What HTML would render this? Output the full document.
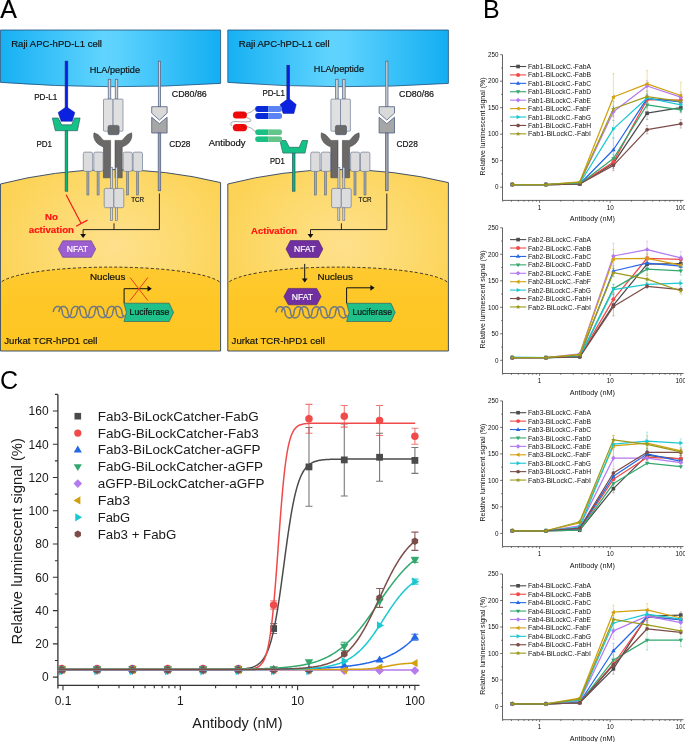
<!DOCTYPE html>
<html><head><meta charset="utf-8"><style>
html,body{margin:0;padding:0;background:#fff;}
svg{display:block;font-family:"Liberation Sans", sans-serif;will-change:transform;}
</style></head><body>
<svg width="685" height="742" viewBox="0 0 685 742">
<rect width="685" height="742" fill="#fff"/>
<defs><linearGradient id="gBlue" x1="0" x2="1" y1="0" y2="0"><stop offset="0" stop-color="#17b0f3"/><stop offset="0.47" stop-color="#60d4fe"/><stop offset="0.53" stop-color="#5dd2fe"/><stop offset="1" stop-color="#13aef2"/></linearGradient><radialGradient id="gYel1" cx="0.52" cy="0.42" r="0.55"><stop offset="0" stop-color="#fee08c"/><stop offset="0.5" stop-color="#fddb72"/><stop offset="1" stop-color="#fcd356"/></radialGradient><linearGradient id="gNuc1" x1="0" x2="0" y1="0" y2="1"><stop offset="0" stop-color="#feca30"/><stop offset="0.4" stop-color="#fec726"/><stop offset="1" stop-color="#fec622"/></linearGradient><radialGradient id="gYel2" cx="0.52" cy="0.42" r="0.55"><stop offset="0" stop-color="#fee08c"/><stop offset="0.5" stop-color="#fddb72"/><stop offset="1" stop-color="#fcd356"/></radialGradient><linearGradient id="gNuc2" x1="0" x2="0" y1="0" y2="1"><stop offset="0" stop-color="#feca30"/><stop offset="0.4" stop-color="#fec726"/><stop offset="1" stop-color="#fec622"/></linearGradient></defs><text x="0.3" y="18.0" font-size="25" fill="#000" stroke="#000" stroke-width="0.18" font-weight="normal" text-anchor="start">A</text><path d="M0.45,30 H220.60 V83.4 Q110.52,90.5 0.45,82.4 Z" fill="url(#gBlue)" stroke="#24507a" stroke-width="0.8"/><clipPath id="cc1"><path d="M0.45,184 Q110.52,155.8 220.60,182.6 V351 H0.45 Z"/></clipPath><path d="M0.45,184 Q110.52,155.8 220.60,182.6 V351 H0.45 Z" fill="url(#gYel1)"/><g clip-path="url(#cc1)"><path d="M-1.08,285.90 A111.6,18.8 0 0 1 222.12,285.90 V360 H-1.08 Z" fill="url(#gNuc1)"/><path d="M-1.08,285.90 A111.6,18.8 0 0 1 222.12,285.90" fill="none" stroke="#222" stroke-width="0.9" stroke-dasharray="3,2.2"/></g><path d="M0.45,184 Q110.52,155.8 220.60,182.6 V351 H0.45 Z" fill="none" stroke="#2d4262" stroke-width="0.9"/><path d="M227.80,30 H448.40 V83.4 Q338.10,90.5 227.80,82.4 Z" fill="url(#gBlue)" stroke="#24507a" stroke-width="0.8"/><clipPath id="cc2"><path d="M227.80,184 Q338.10,155.8 448.40,182.6 V351 H227.80 Z"/></clipPath><path d="M227.80,184 Q338.10,155.8 448.40,182.6 V351 H227.80 Z" fill="url(#gYel2)"/><g clip-path="url(#cc2)"><path d="M226.50,285.90 A111.6,18.8 0 0 1 449.70,285.90 V360 H226.50 Z" fill="url(#gNuc2)"/><path d="M226.50,285.90 A111.6,18.8 0 0 1 449.70,285.90" fill="none" stroke="#222" stroke-width="0.9" stroke-dasharray="3,2.2"/></g><path d="M227.80,184 Q338.10,155.8 448.40,182.6 V351 H227.80 Z" fill="none" stroke="#2d4262" stroke-width="0.9"/><rect x="108.25" y="79.30" width="2.50" height="19.80" fill="#d4d4d6" stroke="#5b6a88" stroke-width="0.8"/><rect x="115.25" y="79.30" width="2.50" height="19.80" fill="#d4d4d6" stroke="#5b6a88" stroke-width="0.8"/><rect x="103.50" y="99.10" width="9.60" height="32.10" rx="0.8" fill="#e0e0e0" stroke="#5b6a88" stroke-width="0.6"/><rect x="113.10" y="99.10" width="9.90" height="32.10" rx="0.8" fill="#e0e0e0" stroke="#5b6a88" stroke-width="0.6"/><rect x="108.00" y="125.40" width="11.10" height="9.30" rx="1.6" fill="#6b6a6a" stroke="#44506a" stroke-width="0.6"/><path d="M94.00,132.80 Q98.50,134.00 101.00,137.50 Q102.60,140.40 104.20,140.40 L110.60,140.40 L110.60,177.80 L103.40,177.80 L103.40,147.00 Q95.00,144.00 93.80,137.00 Q93.60,134.50 94.00,132.80 Z" fill="#6b6868" stroke="#3a3a3a" stroke-width="0.5"/><path d="M131.60,132.80 Q127.10,134.00 124.60,137.50 Q123.00,140.40 121.40,140.40 L115.00,140.40 L115.00,177.80 L122.20,177.80 L122.20,147.00 Q130.60,144.00 131.80,137.00 Q132.00,134.50 131.60,132.80 Z" fill="#6b6868" stroke="#3a3a3a" stroke-width="0.5"/><rect x="86.90" y="171.00" width="2.00" height="24.00" fill="#a3a8b2" stroke="#5b6a88" stroke-width="0.6"/><rect x="83.30" y="152.10" width="9.30" height="19.30" rx="1.6" fill="#dcdcdc" stroke="#5b6a88" stroke-width="0.6"/><rect x="97.10" y="171.00" width="2.00" height="24.00" fill="#a3a8b2" stroke="#5b6a88" stroke-width="0.6"/><rect x="93.80" y="152.10" width="9.30" height="19.30" rx="1.6" fill="#dcdcdc" stroke="#5b6a88" stroke-width="0.6"/><rect x="126.60" y="171.00" width="2.00" height="24.00" fill="#a3a8b2" stroke="#5b6a88" stroke-width="0.6"/><rect x="123.20" y="152.10" width="9.10" height="19.30" rx="1.6" fill="#dcdcdc" stroke="#5b6a88" stroke-width="0.6"/><rect x="136.60" y="171.00" width="2.00" height="24.00" fill="#a3a8b2" stroke="#5b6a88" stroke-width="0.6"/><rect x="133.10" y="152.10" width="9.40" height="19.30" rx="1.6" fill="#dcdcdc" stroke="#5b6a88" stroke-width="0.6"/><rect x="110.50" y="167.30" width="2.00" height="21.30" fill="#d4d4d4" stroke="#5b6a88" stroke-width="0.6"/><rect x="115.40" y="167.30" width="2.00" height="21.30" fill="#d4d4d4" stroke="#5b6a88" stroke-width="0.6"/><rect x="110.40" y="207.50" width="2.00" height="13.10" fill="#d4d4d4" stroke="#5b6a88" stroke-width="0.6"/><rect x="115.40" y="207.50" width="2.00" height="13.10" fill="#d4d4d4" stroke="#5b6a88" stroke-width="0.6"/><rect x="104.20" y="188.40" width="9.70" height="19.30" rx="1.6" fill="#dcdcdc" stroke="#5b6a88" stroke-width="0.6"/><rect x="113.90" y="188.40" width="9.90" height="19.30" rx="1.6" fill="#dcdcdc" stroke="#5b6a88" stroke-width="0.6"/><rect x="158.35" y="61.20" width="2.20" height="45.80" fill="#d0d0d6" stroke="#5a6a8c" stroke-width="0.8"/><polygon points="151.70,106.70 167.10,106.70 167.10,113.10 159.40,120.10 151.70,113.10" fill="#d9d9d9" stroke="#4e5e80" stroke-width="0.8"/><polygon points="151.70,117.20 159.40,123.70 167.10,117.20 167.10,133.00 151.70,133.00" fill="#a6a6a6" stroke="#4e5e80" stroke-width="0.8"/><rect x="158.20" y="133.00" width="2.50" height="57.70" fill="#a0a2a8" stroke="#56668a" stroke-width="0.8"/><path d="M114.0,223.3 V229.6 M159.4,193.5 V229.6 H83.1 V235" fill="none" stroke="#111" stroke-width="0.9"/><polygon points="80.20,234.00 86.00,234.00 83.10,238.00" fill="#111" stroke="none" stroke-width="0.6"/><rect x="65.15" y="61.20" width="2.60" height="46.80" fill="#0a1ee2" stroke="#1a2a80" stroke-width="0.7"/><polygon points="66.40,106.70 74.80,112.50 72.20,121.30 61.10,121.30 58.20,112.50" fill="#0a22e0" stroke="#0a14a0" stroke-width="0.5"/><rect x="65.15" y="130.00" width="2.60" height="61.20" fill="#05b878" stroke="#2a5a6a" stroke-width="0.7"/><polygon points="52.30,118.00 58.20,118.00 61.70,124.80 71.60,124.80 74.50,118.00 80.10,118.00 77.40,130.70 55.30,130.70" fill="#14c286" stroke="#2a5a62" stroke-width="0.65"/><path d="M66.1,194.7 L80.9,223.0 M76.1,226.2 L87.5,220.1" stroke="#f01c1c" stroke-width="1.2" fill="none"/><polygon points="58.30,249.05 62.70,240.80 91.30,240.80 95.70,249.05 91.30,257.30 62.70,257.30" fill="#9b5fd0" stroke="#5b3c8c" stroke-width="0.6"/><polyline points="53.30,312.00 53.55,310.35 53.80,309.67 54.05,309.15 54.30,308.72 54.55,308.36 54.80,308.04 55.05,307.76 55.30,307.51 55.55,307.29 55.80,307.10 56.05,306.93 56.30,306.79 56.55,306.67 56.80,306.57 57.05,306.50 57.30,306.44 57.55,306.41 57.80,306.40 58.05,306.41 58.30,306.44 58.55,306.50 58.80,306.57 59.05,306.67 59.30,306.79 59.55,306.93 59.80,307.10 60.05,307.29 60.30,307.51 60.55,307.76 60.80,308.04 61.05,308.36 61.30,308.72 61.55,309.15 61.80,309.67 62.05,310.35 62.30,312.00 62.55,313.65 62.80,314.33 63.05,314.85 63.30,315.28 63.55,315.64 63.80,315.96 64.05,316.24 64.30,316.49 64.55,316.71 64.80,316.90 65.05,317.07 65.30,317.21 65.55,317.33 65.80,317.43 66.05,317.50 66.30,317.56 66.55,317.59 66.80,317.60 67.05,317.59 67.30,317.56 67.55,317.50 67.80,317.43 68.05,317.33 68.30,317.21 68.55,317.07 68.80,316.90 69.05,316.71 69.30,316.49 69.55,316.24 69.80,315.96 70.05,315.64 70.30,315.28 70.55,314.85 70.80,314.33 71.05,313.65 71.30,312.00 71.55,310.35 71.80,309.67 72.05,309.15 72.30,308.72 72.55,308.36 72.80,308.04 73.05,307.76 73.30,307.51 73.55,307.29 73.80,307.10 74.05,306.93 74.30,306.79 74.55,306.67 74.80,306.57 75.05,306.50 75.30,306.44 75.55,306.41 75.80,306.40 76.05,306.41 76.30,306.44 76.55,306.50 76.80,306.57 77.05,306.67 77.30,306.79 77.55,306.93 77.80,307.10 78.05,307.29 78.30,307.51 78.55,307.76 78.80,308.04 79.05,308.36 79.30,308.72 79.55,309.15 79.80,309.67 80.05,310.35 80.30,312.00 80.55,313.65 80.80,314.33 81.05,314.85 81.30,315.28 81.55,315.64 81.80,315.96 82.05,316.24 82.30,316.49 82.55,316.71 82.80,316.90 83.05,317.07 83.30,317.21 83.55,317.33 83.80,317.43 84.05,317.50 84.30,317.56 84.55,317.59 84.80,317.60 85.05,317.59 85.30,317.56 85.55,317.50 85.80,317.43 86.05,317.33 86.30,317.21 86.55,317.07 86.80,316.90 87.05,316.71 87.30,316.49 87.55,316.24 87.80,315.96 88.05,315.64 88.30,315.28 88.55,314.85 88.80,314.33 89.05,313.65 89.30,312.00 89.55,310.35 89.80,309.67 90.05,309.15 90.30,308.72 90.55,308.36 90.80,308.04 91.05,307.76 91.30,307.51 91.55,307.29 91.80,307.10 92.05,306.93 92.30,306.79 92.55,306.67 92.80,306.57 93.05,306.50 93.30,306.44 93.55,306.41 93.80,306.40 94.05,306.41 94.30,306.44 94.55,306.50 94.80,306.57 95.05,306.67 95.30,306.79 95.55,306.93 95.80,307.10 96.05,307.29 96.30,307.51 96.55,307.76 96.80,308.04 97.05,308.36 97.30,308.72 97.55,309.15 97.80,309.67 98.05,310.35 98.30,312.00 98.55,313.65 98.80,314.33 99.05,314.85 99.30,315.28 99.55,315.64 99.80,315.96 100.05,316.24 100.30,316.49 100.55,316.71 100.80,316.90 101.05,317.07 101.30,317.21 101.55,317.33 101.80,317.43 102.05,317.50 102.30,317.56 102.55,317.59 102.80,317.60 103.05,317.59 103.30,317.56 103.55,317.50 103.80,317.43 104.05,317.33 104.30,317.21 104.55,317.07 104.80,316.90 105.05,316.71 105.30,316.49 105.55,316.24 105.80,315.96 106.05,315.64 106.30,315.28 106.55,314.85 106.80,314.33 107.05,313.65 107.30,312.00 107.55,310.35 107.80,309.67 108.05,309.15 108.30,308.72 108.55,308.36 108.80,308.04 109.05,307.76 109.30,307.51 109.55,307.29 109.80,307.10 110.05,306.93 110.30,306.79 110.55,306.67 110.80,306.57 111.05,306.50 111.30,306.44 111.55,306.41 111.80,306.40 112.05,306.41 112.30,306.44 112.55,306.50 112.80,306.57 113.05,306.67 113.30,306.79 113.55,306.93 113.80,307.10 114.05,307.29 114.30,307.51 114.55,307.76 114.80,308.04 115.05,308.36 115.30,308.72 115.55,309.15 115.80,309.67 116.05,310.35 116.30,312.00 116.55,313.65 116.80,314.33 117.05,314.85 117.30,315.28 117.55,315.64 117.80,315.96 118.05,316.24 118.30,316.49 118.55,316.71 118.80,316.90 119.05,317.07 119.30,317.21 119.55,317.33 119.80,317.43 120.05,317.50 120.30,317.56 120.55,317.59 120.80,317.60 121.05,317.59 121.30,317.56 121.55,317.50 121.80,317.43 122.05,317.33 122.30,317.21 122.55,317.07 122.80,316.90 123.05,316.71 123.30,316.49 123.55,316.24 123.80,315.96 124.05,315.64 124.30,315.28" fill="none" stroke="#6f7785" stroke-width="1.5"/><polyline points="58.88,312.00 59.13,310.35 59.38,309.67 59.63,309.15 59.88,308.72 60.13,308.36 60.38,308.04 60.63,307.76 60.88,307.51 61.13,307.29 61.38,307.10 61.63,306.93 61.88,306.79 62.13,306.67 62.38,306.57 62.63,306.50 62.88,306.44 63.13,306.41 63.38,306.40 63.63,306.41 63.88,306.44 64.13,306.50 64.38,306.57 64.63,306.67 64.88,306.79 65.13,306.93 65.38,307.10 65.63,307.29 65.88,307.51 66.13,307.76 66.38,308.04 66.63,308.36 66.88,308.72 67.13,309.15 67.38,309.67 67.63,310.35 67.88,312.00 68.13,313.65 68.38,314.33 68.63,314.85 68.88,315.28 69.13,315.64 69.38,315.96 69.63,316.24 69.88,316.49 70.13,316.71 70.38,316.90 70.63,317.07 70.88,317.21 71.13,317.33 71.38,317.43 71.63,317.50 71.88,317.56 72.13,317.59 72.38,317.60 72.63,317.59 72.88,317.56 73.13,317.50 73.38,317.43 73.63,317.33 73.88,317.21 74.13,317.07 74.38,316.90 74.63,316.71 74.88,316.49 75.13,316.24 75.38,315.96 75.63,315.64 75.88,315.28 76.13,314.85 76.38,314.33 76.63,313.65 76.88,312.00 77.13,310.35 77.38,309.67 77.63,309.15 77.88,308.72 78.13,308.36 78.38,308.04 78.63,307.76 78.88,307.51 79.13,307.29 79.38,307.10 79.63,306.93 79.88,306.79 80.13,306.67 80.38,306.57 80.63,306.50 80.88,306.44 81.13,306.41 81.38,306.40 81.63,306.41 81.88,306.44 82.13,306.50 82.38,306.57 82.63,306.67 82.88,306.79 83.13,306.93 83.38,307.10 83.63,307.29 83.88,307.51 84.13,307.76 84.38,308.04 84.63,308.36 84.88,308.72 85.13,309.15 85.38,309.67 85.63,310.35 85.88,312.00 86.13,313.65 86.38,314.33 86.63,314.85 86.88,315.28 87.13,315.64 87.38,315.96 87.63,316.24 87.88,316.49 88.13,316.71 88.38,316.90 88.63,317.07 88.88,317.21 89.13,317.33 89.38,317.43 89.63,317.50 89.88,317.56 90.13,317.59 90.38,317.60 90.63,317.59 90.88,317.56 91.13,317.50 91.38,317.43 91.63,317.33 91.88,317.21 92.13,317.07 92.38,316.90 92.63,316.71 92.88,316.49 93.13,316.24 93.38,315.96 93.63,315.64 93.88,315.28 94.13,314.85 94.38,314.33 94.63,313.65 94.88,312.00 95.13,310.35 95.38,309.67 95.63,309.15 95.88,308.72 96.13,308.36 96.38,308.04 96.63,307.76 96.88,307.51 97.13,307.29 97.38,307.10 97.63,306.93 97.88,306.79 98.13,306.67 98.38,306.57 98.63,306.50 98.88,306.44 99.13,306.41 99.38,306.40 99.63,306.41 99.88,306.44 100.13,306.50 100.38,306.57 100.63,306.67 100.88,306.79 101.13,306.93 101.38,307.10 101.63,307.29 101.88,307.51 102.13,307.76 102.38,308.04 102.63,308.36 102.88,308.72 103.13,309.15 103.38,309.67 103.63,310.35 103.88,312.00 104.13,313.65 104.38,314.33 104.63,314.85 104.88,315.28 105.13,315.64 105.38,315.96 105.63,316.24 105.88,316.49 106.13,316.71 106.38,316.90 106.63,317.07 106.88,317.21 107.13,317.33 107.38,317.43 107.63,317.50 107.88,317.56 108.13,317.59 108.38,317.60 108.63,317.59 108.88,317.56 109.13,317.50 109.38,317.43 109.63,317.33 109.88,317.21 110.13,317.07 110.38,316.90 110.63,316.71 110.88,316.49 111.13,316.24 111.38,315.96 111.63,315.64 111.88,315.28 112.13,314.85 112.38,314.33 112.63,313.65 112.88,312.00 113.13,310.35 113.38,309.67 113.63,309.15 113.88,308.72 114.13,308.36 114.38,308.04 114.63,307.76 114.88,307.51 115.13,307.29 115.38,307.10 115.63,306.93 115.88,306.79 116.13,306.67 116.38,306.57 116.63,306.50 116.88,306.44 117.13,306.41 117.38,306.40 117.63,306.41 117.88,306.44 118.13,306.50 118.38,306.57 118.63,306.67 118.88,306.79 119.13,306.93 119.38,307.10 119.63,307.29 119.88,307.51 120.13,307.76 120.38,308.04 120.63,308.36 120.88,308.72 121.13,309.15 121.38,309.67 121.63,310.35 121.88,312.00 122.13,313.65 122.38,314.33 122.63,314.85 122.88,315.28 123.13,315.64 123.38,315.96 123.63,316.24 123.88,316.49 124.13,316.71 124.38,316.90" fill="none" stroke="#6f7785" stroke-width="1.5"/><path d="M124.1,303.2 V288.7 H148" fill="none" stroke="#111" stroke-width="1"/><polygon points="147.50,285.80 151.80,288.70 147.50,291.60" fill="#111" stroke="none" stroke-width="0.6"/><path d="M130,277.5 L147.9,300.6 M147.9,277.5 L130,300.6" stroke="#f03a1a" stroke-width="1" fill="none"/><polygon points="123.90,303.20 169.20,303.20 173.60,312.40 169.20,321.50 123.90,321.50 126.40,312.40" fill="#1fc08a" stroke="#28506a" stroke-width="0.6"/><text x="11.2" y="46.8" font-size="9.2" fill="#111" stroke="#111" stroke-width="0.18" font-weight="normal" text-anchor="start" textLength="90.8" lengthAdjust="spacingAndGlyphs">Raji APC-hPD-L1 cell</text><text x="89.7" y="72.8" font-size="9.2" fill="#111" stroke="#111" stroke-width="0.18" font-weight="normal" text-anchor="start" textLength="50.3" lengthAdjust="spacingAndGlyphs">HLA/peptide</text><text x="34.2" y="99.7" font-size="8.6" fill="#111" stroke="#111" stroke-width="0.18" font-weight="normal" text-anchor="start" textLength="23.0" lengthAdjust="spacingAndGlyphs">PD-L1</text><text x="171.8" y="97.1" font-size="8.6" fill="#111" stroke="#111" stroke-width="0.18" font-weight="normal" text-anchor="start" textLength="35.0" lengthAdjust="spacingAndGlyphs">CD80/86</text><text x="36.4" y="146.9" font-size="8.6" fill="#111" stroke="#111" stroke-width="0.18" font-weight="normal" text-anchor="start" textLength="15.6" lengthAdjust="spacingAndGlyphs">PD1</text><text x="169.2" y="146.9" font-size="8.6" fill="#111" stroke="#111" stroke-width="0.18" font-weight="normal" text-anchor="start" textLength="21.3" lengthAdjust="spacingAndGlyphs">CD28</text><text x="131.2" y="202.1" font-size="7.0" fill="#111" stroke="#111" stroke-width="0.18" font-weight="normal" text-anchor="start" textLength="12.9" lengthAdjust="spacingAndGlyphs">TCR</text><text x="45.1" y="219.8" font-size="9.0" fill="#ff1414" stroke="#ff1414" stroke-width="0.2" font-weight="bold" text-anchor="start" textLength="12.9" lengthAdjust="spacingAndGlyphs">No</text><text x="28.8" y="233.2" font-size="9.0" fill="#ff1414" stroke="#ff1414" stroke-width="0.2" font-weight="bold" text-anchor="start" textLength="45.2" lengthAdjust="spacingAndGlyphs">activation</text><text x="66.7" y="251.9" font-size="8.8" fill="#fff" stroke="#fff" stroke-width="0.18" font-weight="normal" text-anchor="start" textLength="21.3" lengthAdjust="spacingAndGlyphs">NFAT</text><text x="89.9" y="280.0" font-size="9.0" fill="#111" stroke="#111" stroke-width="0.18" font-weight="normal" text-anchor="start" textLength="35.6" lengthAdjust="spacingAndGlyphs">Nucleus</text><text x="129.6" y="315.2" font-size="8.6" fill="#111" stroke="#111" stroke-width="0.18" font-weight="normal" text-anchor="start" textLength="39.7" lengthAdjust="spacingAndGlyphs">Luciferase</text><text x="4.2" y="344.2" font-size="9.5" fill="#111" stroke="#111" stroke-width="0.18" font-weight="normal" text-anchor="start" textLength="93.2" lengthAdjust="spacingAndGlyphs">Jurkat TCR-hPD1 cell</text><rect x="335.65" y="79.30" width="2.50" height="19.80" fill="#d4d4d6" stroke="#5b6a88" stroke-width="0.8"/><rect x="342.65" y="79.30" width="2.50" height="19.80" fill="#d4d4d6" stroke="#5b6a88" stroke-width="0.8"/><rect x="330.90" y="99.10" width="9.60" height="32.10" rx="0.8" fill="#e0e0e0" stroke="#5b6a88" stroke-width="0.6"/><rect x="340.50" y="99.10" width="9.90" height="32.10" rx="0.8" fill="#e0e0e0" stroke="#5b6a88" stroke-width="0.6"/><rect x="335.40" y="125.40" width="11.10" height="9.30" rx="1.6" fill="#6b6a6a" stroke="#44506a" stroke-width="0.6"/><path d="M321.40,132.80 Q325.90,134.00 328.40,137.50 Q330.00,140.40 331.60,140.40 L338.00,140.40 L338.00,177.80 L330.80,177.80 L330.80,147.00 Q322.40,144.00 321.20,137.00 Q321.00,134.50 321.40,132.80 Z" fill="#6b6868" stroke="#3a3a3a" stroke-width="0.5"/><path d="M359.00,132.80 Q354.50,134.00 352.00,137.50 Q350.40,140.40 348.80,140.40 L342.40,140.40 L342.40,177.80 L349.60,177.80 L349.60,147.00 Q358.00,144.00 359.20,137.00 Q359.40,134.50 359.00,132.80 Z" fill="#6b6868" stroke="#3a3a3a" stroke-width="0.5"/><rect x="314.30" y="171.00" width="2.00" height="24.00" fill="#a3a8b2" stroke="#5b6a88" stroke-width="0.6"/><rect x="310.70" y="152.10" width="9.30" height="19.30" rx="1.6" fill="#dcdcdc" stroke="#5b6a88" stroke-width="0.6"/><rect x="324.50" y="171.00" width="2.00" height="24.00" fill="#a3a8b2" stroke="#5b6a88" stroke-width="0.6"/><rect x="321.20" y="152.10" width="9.30" height="19.30" rx="1.6" fill="#dcdcdc" stroke="#5b6a88" stroke-width="0.6"/><rect x="354.00" y="171.00" width="2.00" height="24.00" fill="#a3a8b2" stroke="#5b6a88" stroke-width="0.6"/><rect x="350.60" y="152.10" width="9.10" height="19.30" rx="1.6" fill="#dcdcdc" stroke="#5b6a88" stroke-width="0.6"/><rect x="364.00" y="171.00" width="2.00" height="24.00" fill="#a3a8b2" stroke="#5b6a88" stroke-width="0.6"/><rect x="360.50" y="152.10" width="9.40" height="19.30" rx="1.6" fill="#dcdcdc" stroke="#5b6a88" stroke-width="0.6"/><rect x="337.90" y="167.30" width="2.00" height="21.30" fill="#d4d4d4" stroke="#5b6a88" stroke-width="0.6"/><rect x="342.80" y="167.30" width="2.00" height="21.30" fill="#d4d4d4" stroke="#5b6a88" stroke-width="0.6"/><rect x="337.80" y="207.50" width="2.00" height="13.10" fill="#d4d4d4" stroke="#5b6a88" stroke-width="0.6"/><rect x="342.80" y="207.50" width="2.00" height="13.10" fill="#d4d4d4" stroke="#5b6a88" stroke-width="0.6"/><rect x="331.60" y="188.40" width="9.70" height="19.30" rx="1.6" fill="#dcdcdc" stroke="#5b6a88" stroke-width="0.6"/><rect x="341.30" y="188.40" width="9.90" height="19.30" rx="1.6" fill="#dcdcdc" stroke="#5b6a88" stroke-width="0.6"/><rect x="385.75" y="61.20" width="2.20" height="45.80" fill="#d0d0d6" stroke="#5a6a8c" stroke-width="0.8"/><polygon points="379.10,106.70 394.50,106.70 394.50,113.10 386.80,120.10 379.10,113.10" fill="#d9d9d9" stroke="#4e5e80" stroke-width="0.8"/><polygon points="379.10,117.20 386.80,123.70 394.50,117.20 394.50,133.00 379.10,133.00" fill="#a6a6a6" stroke="#4e5e80" stroke-width="0.8"/><rect x="385.60" y="133.00" width="2.50" height="57.70" fill="#a0a2a8" stroke="#56668a" stroke-width="0.8"/><path d="M341.4,223.3 V229.6 M386.8,193.5 V229.6 H310.5 V235" fill="none" stroke="#111" stroke-width="0.9"/><polygon points="307.60,234.00 313.40,234.00 310.50,238.00" fill="#111" stroke="none" stroke-width="0.6"/><rect x="286.90" y="65.30" width="2.60" height="33.70" fill="#0a1ee2" stroke="#1a2a80" stroke-width="0.7"/><polygon points="288.60,98.20 296.20,104.60 293.90,113.40 283.20,113.40 280.10,104.60" fill="#0a22e0" stroke="#0a14a0" stroke-width="0.5"/><rect x="292.40" y="152.50" width="2.60" height="38.70" fill="#05b878" stroke="#2a5a6a" stroke-width="0.7"/><polygon points="279.90,140.50 285.80,140.50 289.30,147.30 299.20,147.30 302.10,140.50 307.70,140.50 305.00,153.10 282.90,153.10" fill="#14c286" stroke="#2a5a62" stroke-width="0.65"/><path d="M247,113.5 Q251,113 255.5,108.5 M246.5,117.5 Q252,119 250.5,121.2 Q248,122.5 235,121.5 Q229,122 231.5,126 M247,126.5 Q251,127 255.8,132" fill="none" stroke="#707070" stroke-width="0.6"/><clipPath id="pc1059"><rect x="255.1" y="105.9" width="27.099999999999994" height="6.099999999999994" rx="3.049999999999997"/></clipPath><g clip-path="url(#pc1059)"><rect x="255.1" y="105.9" width="13.099999999999994" height="6.099999999999994" fill="#0a2ad8"/><rect x="268.2" y="105.9" width="14.0" height="6.099999999999994" fill="#5a82f2"/></g><clipPath id="pc1129"><rect x="255.1" y="112.9" width="27.099999999999994" height="6.099999999999994" rx="3.049999999999997"/></clipPath><g clip-path="url(#pc1129)"><rect x="255.1" y="112.9" width="13.099999999999994" height="6.099999999999994" fill="#0a2ad8"/><rect x="268.2" y="112.9" width="14.0" height="6.099999999999994" fill="#5a82f2"/></g><clipPath id="pc1292"><rect x="255.1" y="129.2" width="27.099999999999994" height="5.800000000000011" rx="2.9000000000000057"/></clipPath><g clip-path="url(#pc1292)"><rect x="255.1" y="129.2" width="13.099999999999994" height="5.800000000000011" fill="#1cc084"/><rect x="268.2" y="129.2" width="14.0" height="5.800000000000011" fill="#62c68a"/></g><clipPath id="pc1362"><rect x="255.1" y="136.2" width="27.099999999999994" height="5.800000000000011" rx="2.9000000000000057"/></clipPath><g clip-path="url(#pc1362)"><rect x="255.1" y="136.2" width="13.099999999999994" height="5.800000000000011" fill="#1cc084"/><rect x="268.2" y="136.2" width="14.0" height="5.800000000000011" fill="#62c68a"/></g><rect x="232.9" y="111.6" width="14.1" height="7.0" rx="3.5" fill="#f00a0a"/><rect x="232.8" y="123.9" width="14.3" height="7.3" rx="3.6" fill="#f00a0a"/><path d="M240.5,112 Q244,113 245,116.5 M240.5,124.3 Q244,125.3 245,128.8" fill="none" stroke="#a00" stroke-width="0.5"/><polygon points="286.00,249.00 290.40,240.60 318.50,240.60 322.90,249.00 318.50,257.40 290.40,257.40" fill="#7030a0" stroke="#4a2070" stroke-width="0.6"/><path d="M304.7,263.9 V280" fill="none" stroke="#111" stroke-width="1"/><polygon points="301.80,278.60 307.60,278.60 304.70,282.40" fill="#111" stroke="none" stroke-width="0.6"/><polyline points="276.00,312.30 276.25,310.65 276.50,309.97 276.75,309.45 277.00,309.02 277.25,308.66 277.50,308.34 277.75,308.06 278.00,307.81 278.25,307.59 278.50,307.40 278.75,307.23 279.00,307.09 279.25,306.97 279.50,306.87 279.75,306.80 280.00,306.74 280.25,306.71 280.50,306.70 280.75,306.71 281.00,306.74 281.25,306.80 281.50,306.87 281.75,306.97 282.00,307.09 282.25,307.23 282.50,307.40 282.75,307.59 283.00,307.81 283.25,308.06 283.50,308.34 283.75,308.66 284.00,309.02 284.25,309.45 284.50,309.97 284.75,310.65 285.00,312.30 285.25,313.95 285.50,314.63 285.75,315.15 286.00,315.58 286.25,315.94 286.50,316.26 286.75,316.54 287.00,316.79 287.25,317.01 287.50,317.20 287.75,317.37 288.00,317.51 288.25,317.63 288.50,317.73 288.75,317.80 289.00,317.86 289.25,317.89 289.50,317.90 289.75,317.89 290.00,317.86 290.25,317.80 290.50,317.73 290.75,317.63 291.00,317.51 291.25,317.37 291.50,317.20 291.75,317.01 292.00,316.79 292.25,316.54 292.50,316.26 292.75,315.94 293.00,315.58 293.25,315.15 293.50,314.63 293.75,313.95 294.00,312.30 294.25,310.65 294.50,309.97 294.75,309.45 295.00,309.02 295.25,308.66 295.50,308.34 295.75,308.06 296.00,307.81 296.25,307.59 296.50,307.40 296.75,307.23 297.00,307.09 297.25,306.97 297.50,306.87 297.75,306.80 298.00,306.74 298.25,306.71 298.50,306.70 298.75,306.71 299.00,306.74 299.25,306.80 299.50,306.87 299.75,306.97 300.00,307.09 300.25,307.23 300.50,307.40 300.75,307.59 301.00,307.81 301.25,308.06 301.50,308.34 301.75,308.66 302.00,309.02 302.25,309.45 302.50,309.97 302.75,310.65 303.00,312.30 303.25,313.95 303.50,314.63 303.75,315.15 304.00,315.58 304.25,315.94 304.50,316.26 304.75,316.54 305.00,316.79 305.25,317.01 305.50,317.20 305.75,317.37 306.00,317.51 306.25,317.63 306.50,317.73 306.75,317.80 307.00,317.86 307.25,317.89 307.50,317.90 307.75,317.89 308.00,317.86 308.25,317.80 308.50,317.73 308.75,317.63 309.00,317.51 309.25,317.37 309.50,317.20 309.75,317.01 310.00,316.79 310.25,316.54 310.50,316.26 310.75,315.94 311.00,315.58 311.25,315.15 311.50,314.63 311.75,313.95 312.00,312.30 312.25,310.65 312.50,309.97 312.75,309.45 313.00,309.02 313.25,308.66 313.50,308.34 313.75,308.06 314.00,307.81 314.25,307.59 314.50,307.40 314.75,307.23 315.00,307.09 315.25,306.97 315.50,306.87 315.75,306.80 316.00,306.74 316.25,306.71 316.50,306.70 316.75,306.71 317.00,306.74 317.25,306.80 317.50,306.87 317.75,306.97 318.00,307.09 318.25,307.23 318.50,307.40 318.75,307.59 319.00,307.81 319.25,308.06 319.50,308.34 319.75,308.66 320.00,309.02 320.25,309.45 320.50,309.97 320.75,310.65 321.00,312.30 321.25,313.95 321.50,314.63 321.75,315.15 322.00,315.58 322.25,315.94 322.50,316.26 322.75,316.54 323.00,316.79 323.25,317.01 323.50,317.20 323.75,317.37 324.00,317.51 324.25,317.63 324.50,317.73 324.75,317.80 325.00,317.86 325.25,317.89 325.50,317.90 325.75,317.89 326.00,317.86 326.25,317.80 326.50,317.73 326.75,317.63 327.00,317.51 327.25,317.37 327.50,317.20 327.75,317.01 328.00,316.79 328.25,316.54 328.50,316.26 328.75,315.94 329.00,315.58 329.25,315.15 329.50,314.63 329.75,313.95 330.00,312.30 330.25,310.65 330.50,309.97 330.75,309.45 331.00,309.02 331.25,308.66 331.50,308.34 331.75,308.06 332.00,307.81 332.25,307.59 332.50,307.40 332.75,307.23 333.00,307.09 333.25,306.97 333.50,306.87 333.75,306.80 334.00,306.74 334.25,306.71 334.50,306.70 334.75,306.71 335.00,306.74 335.25,306.80 335.50,306.87 335.75,306.97 336.00,307.09 336.25,307.23 336.50,307.40 336.75,307.59 337.00,307.81 337.25,308.06 337.50,308.34 337.75,308.66 338.00,309.02 338.25,309.45 338.50,309.97 338.75,310.65 339.00,312.30 339.25,313.95 339.50,314.63 339.75,315.15 340.00,315.58 340.25,315.94 340.50,316.26 340.75,316.54 341.00,316.79 341.25,317.01 341.50,317.20 341.75,317.37 342.00,317.51 342.25,317.63 342.50,317.73 342.75,317.80 343.00,317.86 343.25,317.89 343.50,317.90 343.75,317.89 344.00,317.86 344.25,317.80 344.50,317.73 344.75,317.63 345.00,317.51 345.25,317.37 345.50,317.20 345.75,317.01 346.00,316.79 346.25,316.54 346.50,316.26 346.75,315.94 347.00,315.58 347.25,315.15" fill="none" stroke="#6f7785" stroke-width="1.5"/><polyline points="281.58,312.30 281.83,310.65 282.08,309.97 282.33,309.45 282.58,309.02 282.83,308.66 283.08,308.34 283.33,308.06 283.58,307.81 283.83,307.59 284.08,307.40 284.33,307.23 284.58,307.09 284.83,306.97 285.08,306.87 285.33,306.80 285.58,306.74 285.83,306.71 286.08,306.70 286.33,306.71 286.58,306.74 286.83,306.80 287.08,306.87 287.33,306.97 287.58,307.09 287.83,307.23 288.08,307.40 288.33,307.59 288.58,307.81 288.83,308.06 289.08,308.34 289.33,308.66 289.58,309.02 289.83,309.45 290.08,309.97 290.33,310.65 290.58,312.30 290.83,313.95 291.08,314.63 291.33,315.15 291.58,315.58 291.83,315.94 292.08,316.26 292.33,316.54 292.58,316.79 292.83,317.01 293.08,317.20 293.33,317.37 293.58,317.51 293.83,317.63 294.08,317.73 294.33,317.80 294.58,317.86 294.83,317.89 295.08,317.90 295.33,317.89 295.58,317.86 295.83,317.80 296.08,317.73 296.33,317.63 296.58,317.51 296.83,317.37 297.08,317.20 297.33,317.01 297.58,316.79 297.83,316.54 298.08,316.26 298.33,315.94 298.58,315.58 298.83,315.15 299.08,314.63 299.33,313.95 299.58,312.30 299.83,310.65 300.08,309.97 300.33,309.45 300.58,309.02 300.83,308.66 301.08,308.34 301.33,308.06 301.58,307.81 301.83,307.59 302.08,307.40 302.33,307.23 302.58,307.09 302.83,306.97 303.08,306.87 303.33,306.80 303.58,306.74 303.83,306.71 304.08,306.70 304.33,306.71 304.58,306.74 304.83,306.80 305.08,306.87 305.33,306.97 305.58,307.09 305.83,307.23 306.08,307.40 306.33,307.59 306.58,307.81 306.83,308.06 307.08,308.34 307.33,308.66 307.58,309.02 307.83,309.45 308.08,309.97 308.33,310.65 308.58,312.30 308.83,313.95 309.08,314.63 309.33,315.15 309.58,315.58 309.83,315.94 310.08,316.26 310.33,316.54 310.58,316.79 310.83,317.01 311.08,317.20 311.33,317.37 311.58,317.51 311.83,317.63 312.08,317.73 312.33,317.80 312.58,317.86 312.83,317.89 313.08,317.90 313.33,317.89 313.58,317.86 313.83,317.80 314.08,317.73 314.33,317.63 314.58,317.51 314.83,317.37 315.08,317.20 315.33,317.01 315.58,316.79 315.83,316.54 316.08,316.26 316.33,315.94 316.58,315.58 316.83,315.15 317.08,314.63 317.33,313.95 317.58,312.30 317.83,310.65 318.08,309.97 318.33,309.45 318.58,309.02 318.83,308.66 319.08,308.34 319.33,308.06 319.58,307.81 319.83,307.59 320.08,307.40 320.33,307.23 320.58,307.09 320.83,306.97 321.08,306.87 321.33,306.80 321.58,306.74 321.83,306.71 322.08,306.70 322.33,306.71 322.58,306.74 322.83,306.80 323.08,306.87 323.33,306.97 323.58,307.09 323.83,307.23 324.08,307.40 324.33,307.59 324.58,307.81 324.83,308.06 325.08,308.34 325.33,308.66 325.58,309.02 325.83,309.45 326.08,309.97 326.33,310.65 326.58,312.30 326.83,313.95 327.08,314.63 327.33,315.15 327.58,315.58 327.83,315.94 328.08,316.26 328.33,316.54 328.58,316.79 328.83,317.01 329.08,317.20 329.33,317.37 329.58,317.51 329.83,317.63 330.08,317.73 330.33,317.80 330.58,317.86 330.83,317.89 331.08,317.90 331.33,317.89 331.58,317.86 331.83,317.80 332.08,317.73 332.33,317.63 332.58,317.51 332.83,317.37 333.08,317.20 333.33,317.01 333.58,316.79 333.83,316.54 334.08,316.26 334.33,315.94 334.58,315.58 334.83,315.15 335.08,314.63 335.33,313.95 335.58,312.30 335.83,310.65 336.08,309.97 336.33,309.45 336.58,309.02 336.83,308.66 337.08,308.34 337.33,308.06 337.58,307.81 337.83,307.59 338.08,307.40 338.33,307.23 338.58,307.09 338.83,306.97 339.08,306.87 339.33,306.80 339.58,306.74 339.83,306.71 340.08,306.70 340.33,306.71 340.58,306.74 340.83,306.80 341.08,306.87 341.33,306.97 341.58,307.09 341.83,307.23 342.08,307.40 342.33,307.59 342.58,307.81 342.83,308.06 343.08,308.34 343.33,308.66 343.58,309.02 343.83,309.45 344.08,309.97 344.33,310.65 344.58,312.30 344.83,313.95 345.08,314.63 345.33,315.15 345.58,315.58 345.83,315.94 346.08,316.26 346.33,316.54 346.58,316.79 346.83,317.01 347.08,317.20" fill="none" stroke="#6f7785" stroke-width="1.5"/><polygon points="283.90,296.60 288.30,288.40 316.70,288.40 321.10,296.60 316.70,304.80 288.30,304.80" fill="#7030a0" stroke="#4a2070" stroke-width="0.6"/><path d="M346.6,303.3 V287.8 H371" fill="none" stroke="#111" stroke-width="1"/><polygon points="370.40,284.90 374.60,287.80 370.40,290.70" fill="#111" stroke="none" stroke-width="0.6"/><polygon points="346.60,303.30 391.00,303.30 395.20,312.40 391.00,321.50 346.60,321.50 349.10,312.40" fill="#1fc08a" stroke="#28506a" stroke-width="0.6"/><text x="238.8" y="46.6" font-size="9.2" fill="#111" stroke="#111" stroke-width="0.18" font-weight="normal" text-anchor="start" textLength="90.8" lengthAdjust="spacingAndGlyphs">Raji APC-hPD-L1 cell</text><text x="313.8" y="72.3" font-size="9.2" fill="#111" stroke="#111" stroke-width="0.18" font-weight="normal" text-anchor="start" textLength="50.2" lengthAdjust="spacingAndGlyphs">HLA/peptide</text><text x="262.4" y="95.7" font-size="8.6" fill="#111" stroke="#111" stroke-width="0.18" font-weight="normal" text-anchor="start" textLength="22.4" lengthAdjust="spacingAndGlyphs">PD-L1</text><text x="399.0" y="97.1" font-size="8.6" fill="#111" stroke="#111" stroke-width="0.18" font-weight="normal" text-anchor="start" textLength="35.0" lengthAdjust="spacingAndGlyphs">CD80/86</text><text x="208.8" y="146.1" font-size="8.6" fill="#111" stroke="#111" stroke-width="0.18" font-weight="normal" text-anchor="start" textLength="36.7" lengthAdjust="spacingAndGlyphs">Antibody</text><text x="270.0" y="164.2" font-size="8.6" fill="#111" stroke="#111" stroke-width="0.18" font-weight="normal" text-anchor="start" textLength="14.8" lengthAdjust="spacingAndGlyphs">PD1</text><text x="396.6" y="146.9" font-size="8.6" fill="#111" stroke="#111" stroke-width="0.18" font-weight="normal" text-anchor="start" textLength="21.3" lengthAdjust="spacingAndGlyphs">CD28</text><text x="358.6" y="202.1" font-size="7.0" fill="#111" stroke="#111" stroke-width="0.18" font-weight="normal" text-anchor="start" textLength="12.9" lengthAdjust="spacingAndGlyphs">TCR</text><text x="251.0" y="233.6" font-size="9.0" fill="#ff1414" stroke="#ff1414" stroke-width="0.2" font-weight="bold" text-anchor="start" textLength="46.2" lengthAdjust="spacingAndGlyphs">Activation</text><text x="294.1" y="251.9" font-size="8.8" fill="#fff" stroke="#fff" stroke-width="0.18" font-weight="normal" text-anchor="start" textLength="21.3" lengthAdjust="spacingAndGlyphs">NFAT</text><text x="317.4" y="280.2" font-size="9.0" fill="#111" stroke="#111" stroke-width="0.18" font-weight="normal" text-anchor="start" textLength="35.4" lengthAdjust="spacingAndGlyphs">Nucleus</text><text x="291.8" y="300.4" font-size="8.8" fill="#fff" stroke="#fff" stroke-width="0.18" font-weight="normal" text-anchor="start" textLength="21.3" lengthAdjust="spacingAndGlyphs">NFAT</text><text x="352.4" y="315.2" font-size="8.6" fill="#111" stroke="#111" stroke-width="0.18" font-weight="normal" text-anchor="start" textLength="39.7" lengthAdjust="spacingAndGlyphs">Luciferase</text><text x="231.6" y="344.2" font-size="9.5" fill="#111" stroke="#111" stroke-width="0.18" font-weight="normal" text-anchor="start" textLength="93.2" lengthAdjust="spacingAndGlyphs">Jurkat TCR-hPD1 cell</text>
<path d="M502.5,54.70 V200.40 H683.5" fill="none" stroke="#3c3c3c" stroke-width="0.8"/><path d="M502.5,187.20 h-2.4 M502.5,160.70 h-2.4 M502.5,134.20 h-2.4 M502.5,107.70 h-2.4 M502.5,81.20 h-2.4 M502.5,54.70 h-2.4 M502.5,173.95 h-1.3 M502.5,147.45 h-1.3 M502.5,120.95 h-1.3 M502.5,94.45 h-1.3 M502.5,67.95 h-1.3 M539.60,200.40 v2.4 M610.20,200.40 v2.4 M680.80,200.40 v2.4 M502.68,200.40 v1.3 M511.51,200.40 v1.3 M518.35,200.40 v1.3 M523.94,200.40 v1.3 M528.66,200.40 v1.3 M532.76,200.40 v1.3 M536.37,200.40 v1.3 M560.85,200.40 v1.3 M573.28,200.40 v1.3 M582.11,200.40 v1.3 M588.95,200.40 v1.3 M594.54,200.40 v1.3 M599.26,200.40 v1.3 M603.36,200.40 v1.3 M606.97,200.40 v1.3 M631.45,200.40 v1.3 M643.88,200.40 v1.3 M652.71,200.40 v1.3 M659.55,200.40 v1.3 M665.14,200.40 v1.3 M669.86,200.40 v1.3 M673.96,200.40 v1.3 M677.57,200.40 v1.3" stroke="#3c3c3c" stroke-width="0.7" fill="none"/><text x="498.4" y="189.4" font-size="6.3" fill="#111" text-anchor="end">0</text><text x="498.4" y="162.9" font-size="6.3" fill="#111" text-anchor="end">50</text><text x="498.4" y="136.4" font-size="6.3" fill="#111" text-anchor="end">100</text><text x="498.4" y="109.9" font-size="6.3" fill="#111" text-anchor="end">150</text><text x="498.4" y="83.4" font-size="6.3" fill="#111" text-anchor="end">200</text><text x="498.4" y="56.9" font-size="6.3" fill="#111" text-anchor="end">250</text><text x="539.6" y="209.5" font-size="6.3" fill="#111" text-anchor="middle">1</text><text x="610.2" y="209.5" font-size="6.3" fill="#111" text-anchor="middle">10</text><text x="680.8" y="209.5" font-size="6.3" fill="#111" text-anchor="middle">100</text><text x="569.7" y="221.4" font-size="7.5" fill="#111" text-anchor="start" textLength="45.3" lengthAdjust="spacingAndGlyphs">Antibody (nM)</text><text transform="translate(485.3,175.4) rotate(-90)" font-size="8.0" fill="#111" textLength="98" lengthAdjust="spacingAndGlyphs">Relative luminescent signal (%)</text><path d="M613.40,168.76 V158.16 M612.20,168.76 h2.4 M612.20,158.16 h2.4 M647.08,119.57 V106.85 M645.88,119.57 h2.4 M645.88,106.85 h2.4 M680.80,111.94 V103.46 M679.60,111.94 h2.4 M679.60,103.46 h2.4" stroke="#4b4b4b" stroke-opacity="0.55" stroke-width="0.6" fill="none"/><path d="M613.40,166.32 V157.84 M612.20,166.32 h2.4 M612.20,157.84 h2.4 M647.08,103.83 V95.35 M645.88,103.83 h2.4 M645.88,95.35 h2.4 M680.80,104.25 V95.77 M679.60,104.25 h2.4 M679.60,95.77 h2.4" stroke="#f04a4a" stroke-opacity="0.55" stroke-width="0.6" fill="none"/><path d="M613.40,161.44 V138.12 M612.20,161.44 h2.4 M612.20,138.12 h2.4 M647.08,102.66 V94.18 M645.88,102.66 h2.4 M645.88,94.18 h2.4 M680.80,105.05 V98.69 M679.60,105.05 h2.4 M679.60,98.69 h2.4" stroke="#2468e6" stroke-opacity="0.55" stroke-width="0.6" fill="none"/><path d="M613.40,162.82 V154.34 M612.20,162.82 h2.4 M612.20,154.34 h2.4 M647.08,107.96 V101.60 M645.88,107.96 h2.4 M645.88,101.60 h2.4 M680.80,113.00 V106.64 M679.60,113.00 h2.4 M679.60,106.64 h2.4" stroke="#33a86e" stroke-opacity="0.55" stroke-width="0.6" fill="none"/><path d="M613.40,116.97 V106.37 M612.20,116.97 h2.4 M612.20,106.37 h2.4 M647.08,91.27 V80.67 M645.88,91.27 h2.4 M645.88,80.67 h2.4 M680.80,102.40 V91.80 M679.60,102.40 h2.4 M679.60,91.80 h2.4" stroke="#b47af0" stroke-opacity="0.55" stroke-width="0.6" fill="none"/><path d="M613.40,120.31 V73.67 M612.20,120.31 h2.4 M612.20,73.67 h2.4 M647.08,97.10 V70.60 M645.88,97.10 h2.4 M645.88,70.60 h2.4 M680.80,108.76 V82.26 M679.60,108.76 h2.4 M679.60,82.26 h2.4" stroke="#d2a00e" stroke-opacity="0.55" stroke-width="0.6" fill="none"/><path d="M613.40,137.38 V120.42 M612.20,137.38 h2.4 M612.20,120.42 h2.4 M647.08,102.24 V93.76 M645.88,102.24 h2.4 M645.88,93.76 h2.4 M680.80,110.08 V99.48 M679.60,110.08 h2.4 M679.60,99.48 h2.4" stroke="#1ac8d2" stroke-opacity="0.55" stroke-width="0.6" fill="none"/><path d="M613.40,170.72 V160.12 M612.20,170.72 h2.4 M612.20,160.12 h2.4 M647.08,133.94 V125.45 M645.88,133.94 h2.4 M645.88,125.45 h2.4 M680.80,128.05 V119.57 M679.60,128.05 h2.4 M679.60,119.57 h2.4" stroke="#7b4c48" stroke-opacity="0.55" stroke-width="0.6" fill="none"/><path d="M613.40,116.18 V101.34 M612.20,116.18 h2.4 M612.20,101.34 h2.4 M647.08,101.87 V91.27 M645.88,101.87 h2.4 M645.88,91.27 h2.4 M680.80,107.70 V94.98 M679.60,107.70 h2.4 M679.60,94.98 h2.4" stroke="#9c9a1c" stroke-opacity="0.55" stroke-width="0.6" fill="none"/><polyline points="512.26,184.55 545.95,184.55 579.72,184.02 613.40,163.46 647.08,113.21 680.80,107.70" fill="none" stroke="#4b4b4b" stroke-width="1.25" stroke-linejoin="round"/><rect x="510.46" y="182.75" width="3.60" height="3.60" fill="#4b4b4b"/><rect x="544.15" y="182.75" width="3.60" height="3.60" fill="#4b4b4b"/><rect x="577.92" y="182.22" width="3.60" height="3.60" fill="#4b4b4b"/><rect x="611.60" y="161.66" width="3.60" height="3.60" fill="#4b4b4b"/><rect x="645.28" y="111.41" width="3.60" height="3.60" fill="#4b4b4b"/><rect x="679.00" y="105.90" width="3.60" height="3.60" fill="#4b4b4b"/><polyline points="512.26,184.55 545.95,184.55 579.72,184.02 613.40,162.08 647.08,99.59 680.80,100.01" fill="none" stroke="#f04a4a" stroke-width="1.25" stroke-linejoin="round"/><circle cx="512.26" cy="184.55" r="1.98" fill="#f04a4a"/><circle cx="545.95" cy="184.55" r="1.98" fill="#f04a4a"/><circle cx="579.72" cy="184.02" r="1.98" fill="#f04a4a"/><circle cx="613.40" cy="162.08" r="1.98" fill="#f04a4a"/><circle cx="647.08" cy="99.59" r="1.98" fill="#f04a4a"/><circle cx="680.80" cy="100.01" r="1.98" fill="#f04a4a"/><polyline points="512.26,184.55 545.95,184.55 579.72,184.02 613.40,149.78 647.08,98.42 680.80,101.87" fill="none" stroke="#2468e6" stroke-width="1.25" stroke-linejoin="round"/><polygon points="512.26,182.21 514.49,185.95 510.04,185.95" fill="#2468e6"/><polygon points="545.95,182.21 548.17,185.95 543.72,185.95" fill="#2468e6"/><polygon points="579.72,181.68 581.94,185.42 577.49,185.42" fill="#2468e6"/><polygon points="613.40,147.44 615.62,151.19 611.18,151.19" fill="#2468e6"/><polygon points="647.08,96.08 649.31,99.83 644.86,99.83" fill="#2468e6"/><polygon points="680.80,99.53 683.02,103.27 678.58,103.27" fill="#2468e6"/><polyline points="512.26,184.55 545.95,184.55 579.72,184.02 613.40,158.58 647.08,104.78 680.80,109.82" fill="none" stroke="#33a86e" stroke-width="1.25" stroke-linejoin="round"/><polygon points="512.26,186.89 514.49,183.15 510.04,183.15" fill="#33a86e"/><polygon points="545.95,186.89 548.17,183.15 543.72,183.15" fill="#33a86e"/><polygon points="579.72,186.36 581.94,182.62 577.49,182.62" fill="#33a86e"/><polygon points="613.40,160.92 615.62,157.18 611.18,157.18" fill="#33a86e"/><polygon points="647.08,107.12 649.31,103.38 644.86,103.38" fill="#33a86e"/><polygon points="680.80,112.16 683.02,108.42 678.58,108.42" fill="#33a86e"/><polyline points="512.26,184.55 545.95,184.55 579.72,182.96 613.40,111.67 647.08,85.97 680.80,97.10" fill="none" stroke="#b47af0" stroke-width="1.25" stroke-linejoin="round"/><polygon points="512.26,182.21 514.60,184.55 512.26,186.89 509.92,184.55" fill="#b47af0"/><polygon points="545.95,182.21 548.29,184.55 545.95,186.89 543.61,184.55" fill="#b47af0"/><polygon points="579.72,180.62 582.06,182.96 579.72,185.30 577.38,182.96" fill="#b47af0"/><polygon points="613.40,109.33 615.74,111.67 613.40,114.01 611.06,111.67" fill="#b47af0"/><polygon points="647.08,83.63 649.42,85.97 647.08,88.31 644.74,85.97" fill="#b47af0"/><polygon points="680.80,94.76 683.14,97.10 680.80,99.44 678.46,97.10" fill="#b47af0"/><polyline points="512.26,184.55 545.95,184.55 579.72,181.90 613.40,96.99 647.08,83.85 680.80,95.51" fill="none" stroke="#d2a00e" stroke-width="1.25" stroke-linejoin="round"/><polygon points="509.92,184.55 513.67,182.33 513.67,186.77" fill="#d2a00e"/><polygon points="543.61,184.55 547.35,182.33 547.35,186.77" fill="#d2a00e"/><polygon points="577.38,181.90 581.12,179.68 581.12,184.12" fill="#d2a00e"/><polygon points="611.06,96.99 614.80,94.77 614.80,99.22" fill="#d2a00e"/><polygon points="644.74,83.85 648.49,81.63 648.49,86.07" fill="#d2a00e"/><polygon points="678.46,95.51 682.20,93.29 682.20,97.73" fill="#d2a00e"/><polyline points="512.26,184.55 545.95,184.55 579.72,183.49 613.40,128.90 647.08,98.00 680.80,104.78" fill="none" stroke="#1ac8d2" stroke-width="1.25" stroke-linejoin="round"/><polygon points="514.60,184.55 510.86,182.33 510.86,186.77" fill="#1ac8d2"/><polygon points="548.29,184.55 544.54,182.33 544.54,186.77" fill="#1ac8d2"/><polygon points="582.06,183.49 578.31,181.27 578.31,185.71" fill="#1ac8d2"/><polygon points="615.74,128.90 612.00,126.68 612.00,131.12" fill="#1ac8d2"/><polygon points="649.42,98.00 645.68,95.78 645.68,100.22" fill="#1ac8d2"/><polygon points="683.14,104.78 679.40,102.56 679.40,107.01" fill="#1ac8d2"/><polyline points="512.26,184.55 545.95,184.55 579.72,184.02 613.40,165.42 647.08,129.69 680.80,123.81" fill="none" stroke="#7b4c48" stroke-width="1.25" stroke-linejoin="round"/><polygon points="512.26,186.53 510.55,185.54 510.55,183.56 512.26,182.57 513.98,183.56 513.98,185.54" fill="#7b4c48"/><polygon points="545.95,186.53 544.23,185.54 544.23,183.56 545.95,182.57 547.66,183.56 547.66,185.54" fill="#7b4c48"/><polygon points="579.72,186.00 578.00,185.01 578.00,183.03 579.72,182.04 581.43,183.03 581.43,185.01" fill="#7b4c48"/><polygon points="613.40,167.40 611.69,166.41 611.69,164.43 613.40,163.44 615.11,164.43 615.11,166.41" fill="#7b4c48"/><polygon points="647.08,131.67 645.37,130.69 645.37,128.70 647.08,127.71 648.80,128.70 648.80,130.69" fill="#7b4c48"/><polygon points="680.80,125.79 679.09,124.80 679.09,122.82 680.80,121.83 682.51,122.82 682.51,124.80" fill="#7b4c48"/><polyline points="512.26,184.55 545.95,184.55 579.72,182.43 613.40,108.76 647.08,96.57 680.80,101.34" fill="none" stroke="#9c9a1c" stroke-width="1.25" stroke-linejoin="round"/><polygon points="512.26,182.12 512.91,183.67 514.57,183.80 513.30,184.89 513.69,186.52 512.26,185.64 510.83,186.52 511.22,184.89 509.95,183.80 511.62,183.67" fill="#9c9a1c"/><polygon points="545.95,182.12 546.59,183.67 548.26,183.80 546.99,184.89 547.38,186.52 545.95,185.64 544.52,186.52 544.91,184.89 543.64,183.80 545.30,183.67" fill="#9c9a1c"/><polygon points="579.72,180.00 580.36,181.55 582.03,181.68 580.76,182.77 581.14,184.40 579.72,183.52 578.29,184.40 578.68,182.77 577.40,181.68 579.07,181.55" fill="#9c9a1c"/><polygon points="613.40,106.33 614.04,107.88 615.71,108.01 614.44,109.10 614.83,110.73 613.40,109.85 611.97,110.73 612.36,109.10 611.09,108.01 612.76,107.88" fill="#9c9a1c"/><polygon points="647.08,94.14 647.73,95.69 649.40,95.82 648.12,96.91 648.51,98.54 647.08,97.66 645.66,98.54 646.04,96.91 644.77,95.82 646.44,95.69" fill="#9c9a1c"/><polygon points="680.80,98.91 681.44,100.46 683.11,100.59 681.84,101.68 682.23,103.31 680.80,102.43 679.37,103.31 679.76,101.68 678.49,100.59 680.16,100.46" fill="#9c9a1c"/><line x1="510.0" y1="66.50" x2="526.2" y2="66.50" stroke="#4b4b4b" stroke-width="1.1"/><rect x="516.30" y="64.70" width="3.60" height="3.60" fill="#4b4b4b"/><text x="528.0" y="69.0" font-size="7.0" fill="#111" text-anchor="start" textLength="63.0" lengthAdjust="spacingAndGlyphs">Fab1-BiLockC.-FabA</text><line x1="510.0" y1="74.92" x2="526.2" y2="74.92" stroke="#f04a4a" stroke-width="1.1"/><circle cx="518.10" cy="74.92" r="1.98" fill="#f04a4a"/><text x="528.0" y="77.4" font-size="7.0" fill="#111" text-anchor="start" textLength="63.0" lengthAdjust="spacingAndGlyphs">Fab1-BiLockC.-FabB</text><line x1="510.0" y1="83.34" x2="526.2" y2="83.34" stroke="#2468e6" stroke-width="1.1"/><polygon points="518.10,81.00 520.32,84.74 515.88,84.74" fill="#2468e6"/><text x="528.0" y="85.8" font-size="7.0" fill="#111" text-anchor="start" textLength="63.0" lengthAdjust="spacingAndGlyphs">Fab1-BiLockC.-FabC</text><line x1="510.0" y1="91.76" x2="526.2" y2="91.76" stroke="#33a86e" stroke-width="1.1"/><polygon points="518.10,94.10 520.32,90.36 515.88,90.36" fill="#33a86e"/><text x="528.0" y="94.3" font-size="7.0" fill="#111" text-anchor="start" textLength="63.0" lengthAdjust="spacingAndGlyphs">Fab1-BiLockC.-FabD</text><line x1="510.0" y1="100.18" x2="526.2" y2="100.18" stroke="#b47af0" stroke-width="1.1"/><polygon points="518.10,97.84 520.44,100.18 518.10,102.52 515.76,100.18" fill="#b47af0"/><text x="528.0" y="102.7" font-size="7.0" fill="#111" text-anchor="start" textLength="63.0" lengthAdjust="spacingAndGlyphs">Fab1-BiLockC.-FabE</text><line x1="510.0" y1="108.60" x2="526.2" y2="108.60" stroke="#d2a00e" stroke-width="1.1"/><polygon points="515.76,108.60 519.50,106.38 519.50,110.82" fill="#d2a00e"/><text x="528.0" y="111.1" font-size="7.0" fill="#111" text-anchor="start" textLength="63.0" lengthAdjust="spacingAndGlyphs">Fab1-BiLockC.-FabF</text><line x1="510.0" y1="117.02" x2="526.2" y2="117.02" stroke="#1ac8d2" stroke-width="1.1"/><polygon points="520.44,117.02 516.70,114.80 516.70,119.24" fill="#1ac8d2"/><text x="528.0" y="119.5" font-size="7.0" fill="#111" text-anchor="start" textLength="63.0" lengthAdjust="spacingAndGlyphs">Fab1-BiLockC.-FabG</text><line x1="510.0" y1="125.44" x2="526.2" y2="125.44" stroke="#7b4c48" stroke-width="1.1"/><polygon points="518.10,127.42 516.39,126.43 516.39,124.45 518.10,123.46 519.81,124.45 519.81,126.43" fill="#7b4c48"/><text x="528.0" y="127.9" font-size="7.0" fill="#111" text-anchor="start" textLength="63.0" lengthAdjust="spacingAndGlyphs">Fab1-BiLockC.-FabH</text><line x1="510.0" y1="133.86" x2="526.2" y2="133.86" stroke="#9c9a1c" stroke-width="1.1"/><polygon points="518.10,131.43 518.74,132.98 520.41,133.11 519.14,134.20 519.53,135.83 518.10,134.95 516.67,135.83 517.06,134.20 515.79,133.11 517.46,132.98" fill="#9c9a1c"/><text x="528.0" y="136.4" font-size="7.0" fill="#111" text-anchor="start" textLength="63.0" lengthAdjust="spacingAndGlyphs">Fab1-BiLockC.-FabI</text><path d="M502.5,227.80 V373.50 H683.5" fill="none" stroke="#3c3c3c" stroke-width="0.8"/><path d="M502.5,360.30 h-2.4 M502.5,333.80 h-2.4 M502.5,307.30 h-2.4 M502.5,280.80 h-2.4 M502.5,254.30 h-2.4 M502.5,227.80 h-2.4 M502.5,347.05 h-1.3 M502.5,320.55 h-1.3 M502.5,294.05 h-1.3 M502.5,267.55 h-1.3 M502.5,241.05 h-1.3 M539.60,373.50 v2.4 M610.20,373.50 v2.4 M680.80,373.50 v2.4 M502.68,373.50 v1.3 M511.51,373.50 v1.3 M518.35,373.50 v1.3 M523.94,373.50 v1.3 M528.66,373.50 v1.3 M532.76,373.50 v1.3 M536.37,373.50 v1.3 M560.85,373.50 v1.3 M573.28,373.50 v1.3 M582.11,373.50 v1.3 M588.95,373.50 v1.3 M594.54,373.50 v1.3 M599.26,373.50 v1.3 M603.36,373.50 v1.3 M606.97,373.50 v1.3 M631.45,373.50 v1.3 M643.88,373.50 v1.3 M652.71,373.50 v1.3 M659.55,373.50 v1.3 M665.14,373.50 v1.3 M669.86,373.50 v1.3 M673.96,373.50 v1.3 M677.57,373.50 v1.3" stroke="#3c3c3c" stroke-width="0.7" fill="none"/><text x="498.4" y="362.5" font-size="6.3" fill="#111" text-anchor="end">0</text><text x="498.4" y="336.0" font-size="6.3" fill="#111" text-anchor="end">50</text><text x="498.4" y="309.5" font-size="6.3" fill="#111" text-anchor="end">100</text><text x="498.4" y="283.0" font-size="6.3" fill="#111" text-anchor="end">150</text><text x="498.4" y="256.5" font-size="6.3" fill="#111" text-anchor="end">200</text><text x="498.4" y="230.0" font-size="6.3" fill="#111" text-anchor="end">250</text><text x="539.6" y="382.6" font-size="6.3" fill="#111" text-anchor="middle">1</text><text x="610.2" y="382.6" font-size="6.3" fill="#111" text-anchor="middle">10</text><text x="680.8" y="382.6" font-size="6.3" fill="#111" text-anchor="middle">100</text><text x="569.7" y="394.5" font-size="7.5" fill="#111" text-anchor="start" textLength="45.3" lengthAdjust="spacingAndGlyphs">Antibody (nM)</text><text transform="translate(485.3,348.5) rotate(-90)" font-size="8.0" fill="#111" textLength="98" lengthAdjust="spacingAndGlyphs">Relative luminescent signal (%)</text><path d="M613.40,315.78 V294.58 M612.20,315.78 h2.4 M612.20,294.58 h2.4 M647.08,268.45 V259.97 M645.88,268.45 h2.4 M645.88,259.97 h2.4 M680.80,266.75 V260.39 M679.60,266.75 h2.4 M679.60,260.39 h2.4" stroke="#4b4b4b" stroke-opacity="0.55" stroke-width="0.6" fill="none"/><path d="M613.40,305.71 V292.99 M612.20,305.71 h2.4 M612.20,292.99 h2.4 M647.08,262.51 V254.03 M645.88,262.51 h2.4 M645.88,254.03 h2.4 M680.80,262.46 V256.10 M679.60,262.46 h2.4 M679.60,256.10 h2.4" stroke="#f04a4a" stroke-opacity="0.55" stroke-width="0.6" fill="none"/><path d="M613.40,276.29 V265.69 M612.20,276.29 h2.4 M612.20,265.69 h2.4 M647.08,267.44 V258.96 M645.88,267.44 h2.4 M645.88,258.96 h2.4 M680.80,270.46 V261.98 M679.60,270.46 h2.4 M679.60,261.98 h2.4" stroke="#2468e6" stroke-opacity="0.55" stroke-width="0.6" fill="none"/><path d="M613.40,292.83 V284.35 M612.20,292.83 h2.4 M612.20,284.35 h2.4 M647.08,275.50 V262.78 M645.88,275.50 h2.4 M645.88,262.78 h2.4 M680.80,275.23 V266.75 M679.60,275.23 h2.4 M679.60,266.75 h2.4" stroke="#33a86e" stroke-opacity="0.55" stroke-width="0.6" fill="none"/><path d="M613.40,268.72 V243.28 M612.20,268.72 h2.4 M612.20,243.28 h2.4 M647.08,258.01 V241.05 M645.88,258.01 h2.4 M645.88,241.05 h2.4 M680.80,264.26 V251.54 M679.60,264.26 h2.4 M679.60,251.54 h2.4" stroke="#b47af0" stroke-opacity="0.55" stroke-width="0.6" fill="none"/><path d="M613.40,268.45 V249.37 M612.20,268.45 h2.4 M612.20,249.37 h2.4 M647.08,263.57 V252.97 M645.88,263.57 h2.4 M645.88,252.97 h2.4 M680.80,269.40 V260.92 M679.60,269.40 h2.4 M679.60,260.92 h2.4" stroke="#d2a00e" stroke-opacity="0.55" stroke-width="0.6" fill="none"/><path d="M613.40,294.90 V284.30 M612.20,294.90 h2.4 M612.20,284.30 h2.4 M647.08,288.54 V280.06 M645.88,288.54 h2.4 M645.88,280.06 h2.4 M680.80,286.36 V280.00 M679.60,286.36 h2.4 M679.60,280.00 h2.4" stroke="#1ac8d2" stroke-opacity="0.55" stroke-width="0.6" fill="none"/><path d="M613.40,276.82 V268.34 M612.20,276.82 h2.4 M612.20,268.34 h2.4 M647.08,284.51 V273.91 M645.88,284.51 h2.4 M645.88,273.91 h2.4 M680.80,294.16 V287.80 M679.60,294.16 h2.4 M679.60,287.80 h2.4" stroke="#9c9a1c" stroke-opacity="0.55" stroke-width="0.6" fill="none"/><polyline points="512.26,357.65 545.95,357.65 579.72,356.59 613.40,305.18 647.08,264.21 680.80,263.57" fill="none" stroke="#4b4b4b" stroke-width="1.25" stroke-linejoin="round"/><rect x="510.46" y="355.85" width="3.60" height="3.60" fill="#4b4b4b"/><rect x="544.15" y="355.85" width="3.60" height="3.60" fill="#4b4b4b"/><rect x="577.92" y="354.79" width="3.60" height="3.60" fill="#4b4b4b"/><rect x="611.60" y="303.38" width="3.60" height="3.60" fill="#4b4b4b"/><rect x="645.28" y="262.41" width="3.60" height="3.60" fill="#4b4b4b"/><rect x="679.00" y="261.77" width="3.60" height="3.60" fill="#4b4b4b"/><polyline points="512.26,357.65 545.95,357.65 579.72,356.59 613.40,299.35 647.08,258.27 680.80,259.28" fill="none" stroke="#f04a4a" stroke-width="1.25" stroke-linejoin="round"/><circle cx="512.26" cy="357.65" r="1.98" fill="#f04a4a"/><circle cx="545.95" cy="357.65" r="1.98" fill="#f04a4a"/><circle cx="579.72" cy="356.59" r="1.98" fill="#f04a4a"/><circle cx="613.40" cy="299.35" r="1.98" fill="#f04a4a"/><circle cx="647.08" cy="258.27" r="1.98" fill="#f04a4a"/><circle cx="680.80" cy="259.28" r="1.98" fill="#f04a4a"/><polyline points="512.26,357.65 545.95,357.65 579.72,356.06 613.40,270.99 647.08,263.20 680.80,266.22" fill="none" stroke="#2468e6" stroke-width="1.25" stroke-linejoin="round"/><polygon points="512.26,355.31 514.49,359.05 510.04,359.05" fill="#2468e6"/><polygon points="545.95,355.31 548.17,359.05 543.72,359.05" fill="#2468e6"/><polygon points="579.72,353.72 581.94,357.46 577.49,357.46" fill="#2468e6"/><polygon points="613.40,268.65 615.62,272.40 611.18,272.40" fill="#2468e6"/><polygon points="647.08,260.86 649.31,264.61 644.86,264.61" fill="#2468e6"/><polygon points="680.80,263.88 683.02,267.63 678.58,267.63" fill="#2468e6"/><polyline points="512.26,357.65 545.95,357.65 579.72,356.59 613.40,288.59 647.08,269.14 680.80,270.99" fill="none" stroke="#33a86e" stroke-width="1.25" stroke-linejoin="round"/><polygon points="512.26,359.99 514.49,356.25 510.04,356.25" fill="#33a86e"/><polygon points="545.95,359.99 548.17,356.25 543.72,356.25" fill="#33a86e"/><polygon points="579.72,358.93 581.94,355.19 577.49,355.19" fill="#33a86e"/><polygon points="613.40,290.93 615.62,287.19 611.18,287.19" fill="#33a86e"/><polygon points="647.08,271.48 649.31,267.74 644.86,267.74" fill="#33a86e"/><polygon points="680.80,273.33 683.02,269.59 678.58,269.59" fill="#33a86e"/><polyline points="512.26,357.65 545.95,357.65 579.72,353.94 613.40,256.00 647.08,249.53 680.80,257.90" fill="none" stroke="#b47af0" stroke-width="1.25" stroke-linejoin="round"/><polygon points="512.26,355.31 514.60,357.65 512.26,359.99 509.92,357.65" fill="#b47af0"/><polygon points="545.95,355.31 548.29,357.65 545.95,359.99 543.61,357.65" fill="#b47af0"/><polygon points="579.72,351.60 582.06,353.94 579.72,356.28 577.38,353.94" fill="#b47af0"/><polygon points="613.40,253.66 615.74,256.00 613.40,258.34 611.06,256.00" fill="#b47af0"/><polygon points="647.08,247.19 649.42,249.53 647.08,251.87 644.74,249.53" fill="#b47af0"/><polygon points="680.80,255.56 683.14,257.90 680.80,260.24 678.46,257.90" fill="#b47af0"/><polyline points="512.26,357.65 545.95,357.65 579.72,354.47 613.40,258.91 647.08,258.27 680.80,265.16" fill="none" stroke="#d2a00e" stroke-width="1.25" stroke-linejoin="round"/><polygon points="509.92,357.65 513.67,355.43 513.67,359.87" fill="#d2a00e"/><polygon points="543.61,357.65 547.35,355.43 547.35,359.87" fill="#d2a00e"/><polygon points="577.38,354.47 581.12,352.25 581.12,356.69" fill="#d2a00e"/><polygon points="611.06,258.91 614.80,256.69 614.80,261.13" fill="#d2a00e"/><polygon points="644.74,258.27 648.49,256.05 648.49,260.50" fill="#d2a00e"/><polygon points="678.46,265.16 682.20,262.94 682.20,267.39" fill="#d2a00e"/><polyline points="512.26,357.12 545.95,357.65 579.72,357.12 613.40,289.60 647.08,284.30 680.80,283.18" fill="none" stroke="#1ac8d2" stroke-width="1.25" stroke-linejoin="round"/><polygon points="514.60,357.12 510.86,354.90 510.86,359.34" fill="#1ac8d2"/><polygon points="548.29,357.65 544.54,355.43 544.54,359.87" fill="#1ac8d2"/><polygon points="582.06,357.12 578.31,354.90 578.31,359.34" fill="#1ac8d2"/><polygon points="615.74,289.60 612.00,287.37 612.00,291.82" fill="#1ac8d2"/><polygon points="649.42,284.30 645.68,282.07 645.68,286.52" fill="#1ac8d2"/><polygon points="683.14,283.18 679.40,280.96 679.40,285.41" fill="#1ac8d2"/><polyline points="512.26,357.65 545.95,357.65 579.72,357.12 613.40,306.56 647.08,286.31 680.80,289.60" fill="none" stroke="#7b4c48" stroke-width="1.25" stroke-linejoin="round"/><polygon points="512.26,359.63 510.55,358.64 510.55,356.66 512.26,355.67 513.98,356.66 513.98,358.64" fill="#7b4c48"/><polygon points="545.95,359.63 544.23,358.64 544.23,356.66 545.95,355.67 547.66,356.66 547.66,358.64" fill="#7b4c48"/><polygon points="579.72,359.10 578.00,358.11 578.00,356.13 579.72,355.14 581.43,356.13 581.43,358.11" fill="#7b4c48"/><polygon points="613.40,308.54 611.69,307.55 611.69,305.57 613.40,304.58 615.11,305.57 615.11,307.55" fill="#7b4c48"/><polygon points="647.08,288.29 645.37,287.30 645.37,285.32 647.08,284.33 648.80,285.32 648.80,287.30" fill="#7b4c48"/><polygon points="680.80,291.58 679.09,290.59 679.09,288.61 680.80,287.62 682.51,288.61 682.51,290.59" fill="#7b4c48"/><polyline points="512.26,357.65 545.95,357.65 579.72,355.00 613.40,272.58 647.08,279.21 680.80,290.98" fill="none" stroke="#9c9a1c" stroke-width="1.25" stroke-linejoin="round"/><polygon points="512.26,355.22 512.91,356.77 514.57,356.90 513.30,357.99 513.69,359.62 512.26,358.74 510.83,359.62 511.22,357.99 509.95,356.90 511.62,356.77" fill="#9c9a1c"/><polygon points="545.95,355.22 546.59,356.77 548.26,356.90 546.99,357.99 547.38,359.62 545.95,358.74 544.52,359.62 544.91,357.99 543.64,356.90 545.30,356.77" fill="#9c9a1c"/><polygon points="579.72,352.57 580.36,354.12 582.03,354.25 580.76,355.34 581.14,356.97 579.72,356.09 578.29,356.97 578.68,355.34 577.40,354.25 579.07,354.12" fill="#9c9a1c"/><polygon points="613.40,270.15 614.04,271.70 615.71,271.83 614.44,272.92 614.83,274.55 613.40,273.68 611.97,274.55 612.36,272.92 611.09,271.83 612.76,271.70" fill="#9c9a1c"/><polygon points="647.08,276.78 647.73,278.33 649.40,278.46 648.12,279.55 648.51,281.18 647.08,280.30 645.66,281.18 646.04,279.55 644.77,278.46 646.44,278.33" fill="#9c9a1c"/><polygon points="680.80,288.55 681.44,290.09 683.11,290.23 681.84,291.31 682.23,292.94 680.80,292.07 679.37,292.94 679.76,291.31 678.49,290.23 680.16,290.09" fill="#9c9a1c"/><line x1="510.0" y1="239.60" x2="526.2" y2="239.60" stroke="#4b4b4b" stroke-width="1.1"/><rect x="516.30" y="237.80" width="3.60" height="3.60" fill="#4b4b4b"/><text x="528.0" y="242.1" font-size="7.0" fill="#111" text-anchor="start" textLength="63.0" lengthAdjust="spacingAndGlyphs">Fab2-BiLockC.-FabA</text><line x1="510.0" y1="248.02" x2="526.2" y2="248.02" stroke="#f04a4a" stroke-width="1.1"/><circle cx="518.10" cy="248.02" r="1.98" fill="#f04a4a"/><text x="528.0" y="250.5" font-size="7.0" fill="#111" text-anchor="start" textLength="63.0" lengthAdjust="spacingAndGlyphs">Fab2-BiLockC.-FabB</text><line x1="510.0" y1="256.44" x2="526.2" y2="256.44" stroke="#2468e6" stroke-width="1.1"/><polygon points="518.10,254.10 520.32,257.84 515.88,257.84" fill="#2468e6"/><text x="528.0" y="258.9" font-size="7.0" fill="#111" text-anchor="start" textLength="63.0" lengthAdjust="spacingAndGlyphs">Fab2-BiLockC.-FabC</text><line x1="510.0" y1="264.86" x2="526.2" y2="264.86" stroke="#33a86e" stroke-width="1.1"/><polygon points="518.10,267.20 520.32,263.46 515.88,263.46" fill="#33a86e"/><text x="528.0" y="267.4" font-size="7.0" fill="#111" text-anchor="start" textLength="63.0" lengthAdjust="spacingAndGlyphs">Fab2-BiLockC.-FabD</text><line x1="510.0" y1="273.28" x2="526.2" y2="273.28" stroke="#b47af0" stroke-width="1.1"/><polygon points="518.10,270.94 520.44,273.28 518.10,275.62 515.76,273.28" fill="#b47af0"/><text x="528.0" y="275.8" font-size="7.0" fill="#111" text-anchor="start" textLength="63.0" lengthAdjust="spacingAndGlyphs">Fab2-BiLockC.-FabE</text><line x1="510.0" y1="281.70" x2="526.2" y2="281.70" stroke="#d2a00e" stroke-width="1.1"/><polygon points="515.76,281.70 519.50,279.48 519.50,283.92" fill="#d2a00e"/><text x="528.0" y="284.2" font-size="7.0" fill="#111" text-anchor="start" textLength="63.0" lengthAdjust="spacingAndGlyphs">Fab2-BiLockC.-FabF</text><line x1="510.0" y1="290.12" x2="526.2" y2="290.12" stroke="#1ac8d2" stroke-width="1.1"/><polygon points="520.44,290.12 516.70,287.90 516.70,292.34" fill="#1ac8d2"/><text x="528.0" y="292.6" font-size="7.0" fill="#111" text-anchor="start" textLength="63.0" lengthAdjust="spacingAndGlyphs">Fab2-BiLockC.-FabG</text><line x1="510.0" y1="298.54" x2="526.2" y2="298.54" stroke="#7b4c48" stroke-width="1.1"/><polygon points="518.10,300.52 516.39,299.53 516.39,297.55 518.10,296.56 519.81,297.55 519.81,299.53" fill="#7b4c48"/><text x="528.0" y="301.0" font-size="7.0" fill="#111" text-anchor="start" textLength="63.0" lengthAdjust="spacingAndGlyphs">Fab2-BiLockC.-FabH</text><line x1="510.0" y1="306.96" x2="526.2" y2="306.96" stroke="#9c9a1c" stroke-width="1.1"/><polygon points="518.10,304.53 518.74,306.08 520.41,306.21 519.14,307.30 519.53,308.93 518.10,308.05 516.67,308.93 517.06,307.30 515.79,306.21 517.46,306.08" fill="#9c9a1c"/><text x="528.0" y="309.5" font-size="7.0" fill="#111" text-anchor="start" textLength="63.0" lengthAdjust="spacingAndGlyphs">Fab2-BiLockC.-FabI</text><path d="M502.5,400.90 V546.60 H683.5" fill="none" stroke="#3c3c3c" stroke-width="0.8"/><path d="M502.5,533.40 h-2.4 M502.5,506.90 h-2.4 M502.5,480.40 h-2.4 M502.5,453.90 h-2.4 M502.5,427.40 h-2.4 M502.5,400.90 h-2.4 M502.5,520.15 h-1.3 M502.5,493.65 h-1.3 M502.5,467.15 h-1.3 M502.5,440.65 h-1.3 M502.5,414.15 h-1.3 M539.60,546.60 v2.4 M610.20,546.60 v2.4 M680.80,546.60 v2.4 M502.68,546.60 v1.3 M511.51,546.60 v1.3 M518.35,546.60 v1.3 M523.94,546.60 v1.3 M528.66,546.60 v1.3 M532.76,546.60 v1.3 M536.37,546.60 v1.3 M560.85,546.60 v1.3 M573.28,546.60 v1.3 M582.11,546.60 v1.3 M588.95,546.60 v1.3 M594.54,546.60 v1.3 M599.26,546.60 v1.3 M603.36,546.60 v1.3 M606.97,546.60 v1.3 M631.45,546.60 v1.3 M643.88,546.60 v1.3 M652.71,546.60 v1.3 M659.55,546.60 v1.3 M665.14,546.60 v1.3 M669.86,546.60 v1.3 M673.96,546.60 v1.3 M677.57,546.60 v1.3" stroke="#3c3c3c" stroke-width="0.7" fill="none"/><text x="498.4" y="535.6" font-size="6.3" fill="#111" text-anchor="end">0</text><text x="498.4" y="509.1" font-size="6.3" fill="#111" text-anchor="end">50</text><text x="498.4" y="482.6" font-size="6.3" fill="#111" text-anchor="end">100</text><text x="498.4" y="456.1" font-size="6.3" fill="#111" text-anchor="end">150</text><text x="498.4" y="429.6" font-size="6.3" fill="#111" text-anchor="end">200</text><text x="498.4" y="403.1" font-size="6.3" fill="#111" text-anchor="end">250</text><text x="539.6" y="555.7" font-size="6.3" fill="#111" text-anchor="middle">1</text><text x="610.2" y="555.7" font-size="6.3" fill="#111" text-anchor="middle">10</text><text x="680.8" y="555.7" font-size="6.3" fill="#111" text-anchor="middle">100</text><text x="569.7" y="567.6" font-size="7.5" fill="#111" text-anchor="start" textLength="45.3" lengthAdjust="spacingAndGlyphs">Antibody (nM)</text><text transform="translate(485.3,521.6) rotate(-90)" font-size="8.0" fill="#111" textLength="98" lengthAdjust="spacingAndGlyphs">Relative luminescent signal (%)</text><path d="M613.40,492.85 V484.38 M612.20,492.85 h2.4 M612.20,484.38 h2.4 M647.08,459.62 V451.14 M645.88,459.62 h2.4 M645.88,451.14 h2.4 M680.80,462.38 V456.02 M679.60,462.38 h2.4 M679.60,456.02 h2.4" stroke="#4b4b4b" stroke-opacity="0.55" stroke-width="0.6" fill="none"/><path d="M613.40,482.47 V476.11 M612.20,482.47 h2.4 M612.20,476.11 h2.4 M647.08,460.58 V454.22 M645.88,460.58 h2.4 M645.88,454.22 h2.4 M680.80,461.85 V455.49 M679.60,461.85 h2.4 M679.60,455.49 h2.4" stroke="#f04a4a" stroke-opacity="0.55" stroke-width="0.6" fill="none"/><path d="M613.40,466.67 V449.71 M612.20,466.67 h2.4 M612.20,449.71 h2.4 M647.08,464.55 V451.83 M645.88,464.55 h2.4 M645.88,451.83 h2.4 M680.80,466.94 V458.46 M679.60,466.94 h2.4 M679.60,458.46 h2.4" stroke="#b47af0" stroke-opacity="0.55" stroke-width="0.6" fill="none"/><path d="M613.40,456.55 V435.35 M612.20,456.55 h2.4 M612.20,435.35 h2.4 M647.08,450.51 V435.67 M645.88,450.51 h2.4 M645.88,435.67 h2.4 M680.80,454.06 V447.70 M679.60,454.06 h2.4 M679.60,447.70 h2.4" stroke="#d2a00e" stroke-opacity="0.55" stroke-width="0.6" fill="none"/><path d="M613.40,448.33 V439.85 M612.20,448.33 h2.4 M612.20,439.85 h2.4 M647.08,450.19 V432.17 M645.88,450.19 h2.4 M645.88,432.17 h2.4 M680.80,447.33 V438.85 M679.60,447.33 h2.4 M679.60,438.85 h2.4" stroke="#1ac8d2" stroke-opacity="0.55" stroke-width="0.6" fill="none"/><path d="M613.40,477.22 V468.74 M612.20,477.22 h2.4 M612.20,468.74 h2.4 M647.08,456.55 V448.07 M645.88,456.55 h2.4 M645.88,448.07 h2.4 M680.80,455.65 V449.29 M679.60,455.65 h2.4 M679.60,449.29 h2.4" stroke="#7b4c48" stroke-opacity="0.55" stroke-width="0.6" fill="none"/><path d="M613.40,444.04 V435.56 M612.20,444.04 h2.4 M612.20,435.56 h2.4 M647.08,448.71 V440.23 M645.88,448.71 h2.4 M645.88,440.23 h2.4 M680.80,455.07 V448.71 M679.60,455.07 h2.4 M679.60,448.71 h2.4" stroke="#9c9a1c" stroke-opacity="0.55" stroke-width="0.6" fill="none"/><polyline points="512.26,530.75 545.95,530.75 579.72,530.22 613.40,488.61 647.08,455.38 680.80,459.20" fill="none" stroke="#4b4b4b" stroke-width="1.25" stroke-linejoin="round"/><rect x="510.46" y="528.95" width="3.60" height="3.60" fill="#4b4b4b"/><rect x="544.15" y="528.95" width="3.60" height="3.60" fill="#4b4b4b"/><rect x="577.92" y="528.42" width="3.60" height="3.60" fill="#4b4b4b"/><rect x="611.60" y="486.81" width="3.60" height="3.60" fill="#4b4b4b"/><rect x="645.28" y="453.58" width="3.60" height="3.60" fill="#4b4b4b"/><rect x="679.00" y="457.40" width="3.60" height="3.60" fill="#4b4b4b"/><polyline points="512.26,530.75 545.95,530.75 579.72,529.16 613.40,479.29 647.08,457.40 680.80,458.67" fill="none" stroke="#f04a4a" stroke-width="1.25" stroke-linejoin="round"/><circle cx="512.26" cy="530.75" r="1.98" fill="#f04a4a"/><circle cx="545.95" cy="530.75" r="1.98" fill="#f04a4a"/><circle cx="579.72" cy="529.16" r="1.98" fill="#f04a4a"/><circle cx="613.40" cy="479.29" r="1.98" fill="#f04a4a"/><circle cx="647.08" cy="457.40" r="1.98" fill="#f04a4a"/><circle cx="680.80" cy="458.67" r="1.98" fill="#f04a4a"/><polyline points="512.26,530.75 545.95,530.75 579.72,528.63 613.40,476.32 647.08,453.90 680.80,461.27" fill="none" stroke="#2468e6" stroke-width="1.25" stroke-linejoin="round"/><polygon points="512.26,528.41 514.49,532.15 510.04,532.15" fill="#2468e6"/><polygon points="545.95,528.41 548.17,532.15 543.72,532.15" fill="#2468e6"/><polygon points="579.72,526.29 581.94,530.03 577.49,530.03" fill="#2468e6"/><polygon points="613.40,473.98 615.62,477.72 611.18,477.72" fill="#2468e6"/><polygon points="647.08,451.56 649.31,455.30 644.86,455.30" fill="#2468e6"/><polygon points="680.80,458.93 683.02,462.67 678.58,462.67" fill="#2468e6"/><polyline points="512.26,530.75 545.95,530.75 579.72,530.22 613.40,483.58 647.08,463.23 680.80,466.62" fill="none" stroke="#33a86e" stroke-width="1.25" stroke-linejoin="round"/><polygon points="512.26,533.09 514.49,529.35 510.04,529.35" fill="#33a86e"/><polygon points="545.95,533.09 548.17,529.35 543.72,529.35" fill="#33a86e"/><polygon points="579.72,532.56 581.94,528.82 577.49,528.82" fill="#33a86e"/><polygon points="613.40,485.92 615.62,482.18 611.18,482.18" fill="#33a86e"/><polygon points="647.08,465.57 649.31,461.82 644.86,461.82" fill="#33a86e"/><polygon points="680.80,468.96 683.02,465.22 678.58,465.22" fill="#33a86e"/><polyline points="512.26,530.75 545.95,530.75 579.72,525.98 613.40,458.19 647.08,458.19 680.80,462.70" fill="none" stroke="#b47af0" stroke-width="1.25" stroke-linejoin="round"/><polygon points="512.26,528.41 514.60,530.75 512.26,533.09 509.92,530.75" fill="#b47af0"/><polygon points="545.95,528.41 548.29,530.75 545.95,533.09 543.61,530.75" fill="#b47af0"/><polygon points="579.72,523.64 582.06,525.98 579.72,528.32 577.38,525.98" fill="#b47af0"/><polygon points="613.40,455.85 615.74,458.19 613.40,460.53 611.06,458.19" fill="#b47af0"/><polygon points="647.08,455.85 649.42,458.19 647.08,460.53 644.74,458.19" fill="#b47af0"/><polygon points="680.80,460.36 683.14,462.70 680.80,465.04 678.46,462.70" fill="#b47af0"/><polyline points="512.26,530.75 545.95,530.75 579.72,522.80 613.40,445.95 647.08,443.09 680.80,450.88" fill="none" stroke="#d2a00e" stroke-width="1.25" stroke-linejoin="round"/><polygon points="509.92,530.75 513.67,528.53 513.67,532.97" fill="#d2a00e"/><polygon points="543.61,530.75 547.35,528.53 547.35,532.97" fill="#d2a00e"/><polygon points="577.38,522.80 581.12,520.58 581.12,525.02" fill="#d2a00e"/><polygon points="611.06,445.95 614.80,443.73 614.80,448.17" fill="#d2a00e"/><polygon points="644.74,443.09 648.49,440.86 648.49,445.31" fill="#d2a00e"/><polygon points="678.46,450.88 682.20,448.66 682.20,453.10" fill="#d2a00e"/><polyline points="512.26,530.75 545.95,530.75 579.72,527.04 613.40,444.09 647.08,441.18 680.80,443.09" fill="none" stroke="#1ac8d2" stroke-width="1.25" stroke-linejoin="round"/><polygon points="514.60,530.75 510.86,528.53 510.86,532.97" fill="#1ac8d2"/><polygon points="548.29,530.75 544.54,528.53 544.54,532.97" fill="#1ac8d2"/><polygon points="582.06,527.04 578.31,524.82 578.31,529.26" fill="#1ac8d2"/><polygon points="615.74,444.09 612.00,441.87 612.00,446.32" fill="#1ac8d2"/><polygon points="649.42,441.18 645.68,438.96 645.68,443.40" fill="#1ac8d2"/><polygon points="683.14,443.09 679.40,440.86 679.40,445.31" fill="#1ac8d2"/><polyline points="512.26,530.75 545.95,530.75 579.72,528.10 613.40,472.98 647.08,452.31 680.80,452.47" fill="none" stroke="#7b4c48" stroke-width="1.25" stroke-linejoin="round"/><polygon points="512.26,532.73 510.55,531.74 510.55,529.76 512.26,528.77 513.98,529.76 513.98,531.74" fill="#7b4c48"/><polygon points="545.95,532.73 544.23,531.74 544.23,529.76 545.95,528.77 547.66,529.76 547.66,531.74" fill="#7b4c48"/><polygon points="579.72,530.08 578.00,529.09 578.00,527.11 579.72,526.12 581.43,527.11 581.43,529.09" fill="#7b4c48"/><polygon points="613.40,474.96 611.69,473.97 611.69,471.99 613.40,471.00 615.11,471.99 615.11,473.97" fill="#7b4c48"/><polygon points="647.08,454.29 645.37,453.30 645.37,451.32 647.08,450.33 648.80,451.32 648.80,453.30" fill="#7b4c48"/><polygon points="680.80,454.45 679.09,453.46 679.09,451.48 680.80,450.49 682.51,451.48 682.51,453.46" fill="#7b4c48"/><polyline points="512.26,530.75 545.95,530.75 579.72,521.74 613.40,439.80 647.08,444.47 680.80,451.89" fill="none" stroke="#9c9a1c" stroke-width="1.25" stroke-linejoin="round"/><polygon points="512.26,528.32 512.91,529.87 514.57,530.00 513.30,531.09 513.69,532.72 512.26,531.84 510.83,532.72 511.22,531.09 509.95,530.00 511.62,529.87" fill="#9c9a1c"/><polygon points="545.95,528.32 546.59,529.87 548.26,530.00 546.99,531.09 547.38,532.72 545.95,531.84 544.52,532.72 544.91,531.09 543.64,530.00 545.30,529.87" fill="#9c9a1c"/><polygon points="579.72,519.31 580.36,520.86 582.03,520.99 580.76,522.08 581.14,523.71 579.72,522.83 578.29,523.71 578.68,522.08 577.40,520.99 579.07,520.86" fill="#9c9a1c"/><polygon points="613.40,437.37 614.04,438.92 615.71,439.05 614.44,440.14 614.83,441.77 613.40,440.90 611.97,441.77 612.36,440.14 611.09,439.05 612.76,438.92" fill="#9c9a1c"/><polygon points="647.08,442.04 647.73,443.58 649.40,443.72 648.12,444.80 648.51,446.43 647.08,445.56 645.66,446.43 646.04,444.80 644.77,443.72 646.44,443.58" fill="#9c9a1c"/><polygon points="680.80,449.46 681.44,451.00 683.11,451.14 681.84,452.22 682.23,453.85 680.80,452.98 679.37,453.85 679.76,452.22 678.49,451.14 680.16,451.00" fill="#9c9a1c"/><line x1="510.0" y1="412.70" x2="526.2" y2="412.70" stroke="#4b4b4b" stroke-width="1.1"/><rect x="516.30" y="410.90" width="3.60" height="3.60" fill="#4b4b4b"/><text x="528.0" y="415.2" font-size="7.0" fill="#111" text-anchor="start" textLength="63.0" lengthAdjust="spacingAndGlyphs">Fab3-BiLockC.-FabA</text><line x1="510.0" y1="421.12" x2="526.2" y2="421.12" stroke="#f04a4a" stroke-width="1.1"/><circle cx="518.10" cy="421.12" r="1.98" fill="#f04a4a"/><text x="528.0" y="423.6" font-size="7.0" fill="#111" text-anchor="start" textLength="63.0" lengthAdjust="spacingAndGlyphs">Fab3-BiLockC.-FabB</text><line x1="510.0" y1="429.54" x2="526.2" y2="429.54" stroke="#2468e6" stroke-width="1.1"/><polygon points="518.10,427.20 520.32,430.94 515.88,430.94" fill="#2468e6"/><text x="528.0" y="432.0" font-size="7.0" fill="#111" text-anchor="start" textLength="63.0" lengthAdjust="spacingAndGlyphs">Fab3-BiLockC.-FabC</text><line x1="510.0" y1="437.96" x2="526.2" y2="437.96" stroke="#33a86e" stroke-width="1.1"/><polygon points="518.10,440.30 520.32,436.56 515.88,436.56" fill="#33a86e"/><text x="528.0" y="440.5" font-size="7.0" fill="#111" text-anchor="start" textLength="63.0" lengthAdjust="spacingAndGlyphs">Fab3-BiLockC.-FabD</text><line x1="510.0" y1="446.38" x2="526.2" y2="446.38" stroke="#b47af0" stroke-width="1.1"/><polygon points="518.10,444.04 520.44,446.38 518.10,448.72 515.76,446.38" fill="#b47af0"/><text x="528.0" y="448.9" font-size="7.0" fill="#111" text-anchor="start" textLength="63.0" lengthAdjust="spacingAndGlyphs">Fab3-BiLockC.-FabE</text><line x1="510.0" y1="454.80" x2="526.2" y2="454.80" stroke="#d2a00e" stroke-width="1.1"/><polygon points="515.76,454.80 519.50,452.58 519.50,457.02" fill="#d2a00e"/><text x="528.0" y="457.3" font-size="7.0" fill="#111" text-anchor="start" textLength="63.0" lengthAdjust="spacingAndGlyphs">Fab3-BiLockC.-FabF</text><line x1="510.0" y1="463.22" x2="526.2" y2="463.22" stroke="#1ac8d2" stroke-width="1.1"/><polygon points="520.44,463.22 516.70,461.00 516.70,465.44" fill="#1ac8d2"/><text x="528.0" y="465.7" font-size="7.0" fill="#111" text-anchor="start" textLength="63.0" lengthAdjust="spacingAndGlyphs">Fab3-BiLockC.-FabG</text><line x1="510.0" y1="471.64" x2="526.2" y2="471.64" stroke="#7b4c48" stroke-width="1.1"/><polygon points="518.10,473.62 516.39,472.63 516.39,470.65 518.10,469.66 519.81,470.65 519.81,472.63" fill="#7b4c48"/><text x="528.0" y="474.1" font-size="7.0" fill="#111" text-anchor="start" textLength="63.0" lengthAdjust="spacingAndGlyphs">Fab3-BiLockC.-FabH</text><line x1="510.0" y1="480.06" x2="526.2" y2="480.06" stroke="#9c9a1c" stroke-width="1.1"/><polygon points="518.10,477.63 518.74,479.18 520.41,479.31 519.14,480.40 519.53,482.03 518.10,481.15 516.67,482.03 517.06,480.40 515.79,479.31 517.46,479.18" fill="#9c9a1c"/><text x="528.0" y="482.6" font-size="7.0" fill="#111" text-anchor="start" textLength="63.0" lengthAdjust="spacingAndGlyphs">Fab3-BiLockC.-FabI</text><path d="M502.5,574.00 V719.70 H683.5" fill="none" stroke="#3c3c3c" stroke-width="0.8"/><path d="M502.5,706.50 h-2.4 M502.5,680.00 h-2.4 M502.5,653.50 h-2.4 M502.5,627.00 h-2.4 M502.5,600.50 h-2.4 M502.5,574.00 h-2.4 M502.5,693.25 h-1.3 M502.5,666.75 h-1.3 M502.5,640.25 h-1.3 M502.5,613.75 h-1.3 M502.5,587.25 h-1.3 M539.60,719.70 v2.4 M610.20,719.70 v2.4 M680.80,719.70 v2.4 M502.68,719.70 v1.3 M511.51,719.70 v1.3 M518.35,719.70 v1.3 M523.94,719.70 v1.3 M528.66,719.70 v1.3 M532.76,719.70 v1.3 M536.37,719.70 v1.3 M560.85,719.70 v1.3 M573.28,719.70 v1.3 M582.11,719.70 v1.3 M588.95,719.70 v1.3 M594.54,719.70 v1.3 M599.26,719.70 v1.3 M603.36,719.70 v1.3 M606.97,719.70 v1.3 M631.45,719.70 v1.3 M643.88,719.70 v1.3 M652.71,719.70 v1.3 M659.55,719.70 v1.3 M665.14,719.70 v1.3 M669.86,719.70 v1.3 M673.96,719.70 v1.3 M677.57,719.70 v1.3" stroke="#3c3c3c" stroke-width="0.7" fill="none"/><text x="498.4" y="708.7" font-size="6.3" fill="#111" text-anchor="end">0</text><text x="498.4" y="682.2" font-size="6.3" fill="#111" text-anchor="end">50</text><text x="498.4" y="655.7" font-size="6.3" fill="#111" text-anchor="end">100</text><text x="498.4" y="629.2" font-size="6.3" fill="#111" text-anchor="end">150</text><text x="498.4" y="602.7" font-size="6.3" fill="#111" text-anchor="end">200</text><text x="498.4" y="576.2" font-size="6.3" fill="#111" text-anchor="end">250</text><text x="539.6" y="728.8" font-size="6.3" fill="#111" text-anchor="middle">1</text><text x="610.2" y="728.8" font-size="6.3" fill="#111" text-anchor="middle">10</text><text x="680.8" y="728.8" font-size="6.3" fill="#111" text-anchor="middle">100</text><text x="569.7" y="740.7" font-size="7.5" fill="#111" text-anchor="start" textLength="45.3" lengthAdjust="spacingAndGlyphs">Antibody (nM)</text><text transform="translate(485.3,694.7) rotate(-90)" font-size="8.0" fill="#111" textLength="98" lengthAdjust="spacingAndGlyphs">Relative luminescent signal (%)</text><path d="M613.40,674.17 V663.57 M612.20,674.17 h2.4 M612.20,663.57 h2.4 M647.08,620.32 V611.84 M645.88,620.32 h2.4 M645.88,611.84 h2.4 M680.80,618.25 V611.89 M679.60,618.25 h2.4 M679.60,611.89 h2.4" stroke="#4b4b4b" stroke-opacity="0.55" stroke-width="0.6" fill="none"/><path d="M613.40,658.16 V643.32 M612.20,658.16 h2.4 M612.20,643.32 h2.4 M647.08,622.02 V611.42 M645.88,622.02 h2.4 M645.88,611.42 h2.4 M680.80,623.18 V616.82 M679.60,623.18 h2.4 M679.60,616.82 h2.4" stroke="#2468e6" stroke-opacity="0.55" stroke-width="0.6" fill="none"/><path d="M613.40,665.37 V654.77 M612.20,665.37 h2.4 M612.20,654.77 h2.4 M647.08,650.16 V630.02 M645.88,650.16 h2.4 M645.88,630.02 h2.4 M680.80,646.45 V633.73 M679.60,646.45 h2.4 M679.60,633.73 h2.4" stroke="#33a86e" stroke-opacity="0.55" stroke-width="0.6" fill="none"/><path d="M613.40,639.30 V622.34 M612.20,639.30 h2.4 M612.20,622.34 h2.4 M647.08,622.44 V609.72 M645.88,622.44 h2.4 M645.88,609.72 h2.4 M680.80,626.84 V618.36 M679.60,626.84 h2.4 M679.60,618.36 h2.4" stroke="#b47af0" stroke-opacity="0.55" stroke-width="0.6" fill="none"/><path d="M613.40,619.05 V605.27 M612.20,619.05 h2.4 M612.20,605.27 h2.4 M647.08,616.24 V603.52 M645.88,616.24 h2.4 M645.88,603.52 h2.4 M680.80,622.23 V613.75 M679.60,622.23 h2.4 M679.60,613.75 h2.4" stroke="#d2a00e" stroke-opacity="0.55" stroke-width="0.6" fill="none"/><path d="M613.40,628.33 V617.73 M612.20,628.33 h2.4 M612.20,617.73 h2.4 M647.08,618.41 V609.93 M645.88,618.41 h2.4 M645.88,609.93 h2.4 M680.80,623.29 V614.81 M679.60,623.29 h2.4 M679.60,614.81 h2.4" stroke="#1ac8d2" stroke-opacity="0.55" stroke-width="0.6" fill="none"/><path d="M613.40,623.66 V615.18 M612.20,623.66 h2.4 M612.20,615.18 h2.4 M647.08,629.12 V620.64 M645.88,629.12 h2.4 M645.88,620.64 h2.4 M680.80,634.00 V627.64 M679.60,634.00 h2.4 M679.60,627.64 h2.4" stroke="#9c9a1c" stroke-opacity="0.55" stroke-width="0.6" fill="none"/><polyline points="512.26,703.85 545.95,703.85 579.72,702.79 613.40,668.87 647.08,616.08 680.80,615.08" fill="none" stroke="#4b4b4b" stroke-width="1.25" stroke-linejoin="round"/><rect x="510.46" y="702.05" width="3.60" height="3.60" fill="#4b4b4b"/><rect x="544.15" y="702.05" width="3.60" height="3.60" fill="#4b4b4b"/><rect x="577.92" y="700.99" width="3.60" height="3.60" fill="#4b4b4b"/><rect x="611.60" y="667.07" width="3.60" height="3.60" fill="#4b4b4b"/><rect x="645.28" y="614.28" width="3.60" height="3.60" fill="#4b4b4b"/><rect x="679.00" y="613.28" width="3.60" height="3.60" fill="#4b4b4b"/><polyline points="512.26,703.85 545.95,703.85 579.72,702.79 613.40,663.99 647.08,617.09 680.80,619.05" fill="none" stroke="#f04a4a" stroke-width="1.25" stroke-linejoin="round"/><circle cx="512.26" cy="703.85" r="1.98" fill="#f04a4a"/><circle cx="545.95" cy="703.85" r="1.98" fill="#f04a4a"/><circle cx="579.72" cy="702.79" r="1.98" fill="#f04a4a"/><circle cx="613.40" cy="663.99" r="1.98" fill="#f04a4a"/><circle cx="647.08" cy="617.09" r="1.98" fill="#f04a4a"/><circle cx="680.80" cy="619.05" r="1.98" fill="#f04a4a"/><polyline points="512.26,703.85 545.95,703.85 579.72,702.26 613.40,650.74 647.08,616.72 680.80,620.00" fill="none" stroke="#2468e6" stroke-width="1.25" stroke-linejoin="round"/><polygon points="512.26,701.51 514.49,705.25 510.04,705.25" fill="#2468e6"/><polygon points="545.95,701.51 548.17,705.25 543.72,705.25" fill="#2468e6"/><polygon points="579.72,699.92 581.94,703.66 577.49,703.66" fill="#2468e6"/><polygon points="613.40,648.40 615.62,652.15 611.18,652.15" fill="#2468e6"/><polygon points="647.08,614.38 649.31,618.12 644.86,618.12" fill="#2468e6"/><polygon points="680.80,617.66 683.02,621.41 678.58,621.41" fill="#2468e6"/><polyline points="512.26,703.85 545.95,703.85 579.72,702.79 613.40,660.07 647.08,640.09 680.80,640.09" fill="none" stroke="#33a86e" stroke-width="1.25" stroke-linejoin="round"/><polygon points="512.26,706.19 514.49,702.45 510.04,702.45" fill="#33a86e"/><polygon points="545.95,706.19 548.17,702.45 543.72,702.45" fill="#33a86e"/><polygon points="579.72,705.13 581.94,701.39 577.49,701.39" fill="#33a86e"/><polygon points="613.40,662.41 615.62,658.67 611.18,658.67" fill="#33a86e"/><polygon points="647.08,642.43 649.31,638.69 644.86,638.69" fill="#33a86e"/><polygon points="680.80,642.43 683.02,638.69 678.58,638.69" fill="#33a86e"/><polyline points="512.26,703.85 545.95,703.85 579.72,701.20 613.40,630.82 647.08,616.08 680.80,622.60" fill="none" stroke="#b47af0" stroke-width="1.25" stroke-linejoin="round"/><polygon points="512.26,701.51 514.60,703.85 512.26,706.19 509.92,703.85" fill="#b47af0"/><polygon points="545.95,701.51 548.29,703.85 545.95,706.19 543.61,703.85" fill="#b47af0"/><polygon points="579.72,698.86 582.06,701.20 579.72,703.54 577.38,701.20" fill="#b47af0"/><polygon points="613.40,628.48 615.74,630.82 613.40,633.16 611.06,630.82" fill="#b47af0"/><polygon points="647.08,613.74 649.42,616.08 647.08,618.42 644.74,616.08" fill="#b47af0"/><polygon points="680.80,620.26 683.14,622.60 680.80,624.94 678.46,622.60" fill="#b47af0"/><polyline points="512.26,703.85 545.95,703.85 579.72,698.02 613.40,612.16 647.08,609.88 680.80,617.99" fill="none" stroke="#d2a00e" stroke-width="1.25" stroke-linejoin="round"/><polygon points="509.92,703.85 513.67,701.63 513.67,706.07" fill="#d2a00e"/><polygon points="543.61,703.85 547.35,701.63 547.35,706.07" fill="#d2a00e"/><polygon points="577.38,698.02 581.12,695.80 581.12,700.24" fill="#d2a00e"/><polygon points="611.06,612.16 614.80,609.94 614.80,614.38" fill="#d2a00e"/><polygon points="644.74,609.88 648.49,607.66 648.49,612.10" fill="#d2a00e"/><polygon points="678.46,617.99 682.20,615.77 682.20,620.21" fill="#d2a00e"/><polyline points="512.26,703.85 545.95,703.85 579.72,700.14 613.40,623.02 647.08,614.17 680.80,619.05" fill="none" stroke="#1ac8d2" stroke-width="1.25" stroke-linejoin="round"/><polygon points="514.60,703.85 510.86,701.63 510.86,706.07" fill="#1ac8d2"/><polygon points="548.29,703.85 544.54,701.63 544.54,706.07" fill="#1ac8d2"/><polygon points="582.06,700.14 578.31,697.92 578.31,702.36" fill="#1ac8d2"/><polygon points="615.74,623.02 612.00,620.80 612.00,625.25" fill="#1ac8d2"/><polygon points="649.42,614.17 645.68,611.95 645.68,616.40" fill="#1ac8d2"/><polygon points="683.14,619.05 679.40,616.83 679.40,621.27" fill="#1ac8d2"/><polyline points="512.26,703.85 545.95,703.85 579.72,702.79 613.40,665.00 647.08,628.80 680.80,632.30" fill="none" stroke="#7b4c48" stroke-width="1.25" stroke-linejoin="round"/><polygon points="512.26,705.83 510.55,704.84 510.55,702.86 512.26,701.87 513.98,702.86 513.98,704.84" fill="#7b4c48"/><polygon points="545.95,705.83 544.23,704.84 544.23,702.86 545.95,701.87 547.66,702.86 547.66,704.84" fill="#7b4c48"/><polygon points="579.72,704.77 578.00,703.78 578.00,701.80 579.72,700.81 581.43,701.80 581.43,703.78" fill="#7b4c48"/><polygon points="613.40,666.98 611.69,665.99 611.69,664.01 613.40,663.02 615.11,664.01 615.11,665.99" fill="#7b4c48"/><polygon points="647.08,630.78 645.37,629.79 645.37,627.81 647.08,626.82 648.80,627.81 648.80,629.79" fill="#7b4c48"/><polygon points="680.80,634.28 679.09,633.29 679.09,631.31 680.80,630.32 682.51,631.31 682.51,633.29" fill="#7b4c48"/><polyline points="512.26,703.85 545.95,703.85 579.72,699.08 613.40,619.42 647.08,624.88 680.80,630.82" fill="none" stroke="#9c9a1c" stroke-width="1.25" stroke-linejoin="round"/><polygon points="512.26,701.42 512.91,702.97 514.57,703.10 513.30,704.19 513.69,705.82 512.26,704.94 510.83,705.82 511.22,704.19 509.95,703.10 511.62,702.97" fill="#9c9a1c"/><polygon points="545.95,701.42 546.59,702.97 548.26,703.10 546.99,704.19 547.38,705.82 545.95,704.94 544.52,705.82 544.91,704.19 543.64,703.10 545.30,702.97" fill="#9c9a1c"/><polygon points="579.72,696.65 580.36,698.20 582.03,698.33 580.76,699.42 581.14,701.05 579.72,700.17 578.29,701.05 578.68,699.42 577.40,698.33 579.07,698.20" fill="#9c9a1c"/><polygon points="613.40,616.99 614.04,618.54 615.71,618.67 614.44,619.76 614.83,621.39 613.40,620.51 611.97,621.39 612.36,619.76 611.09,618.67 612.76,618.54" fill="#9c9a1c"/><polygon points="647.08,622.45 647.73,624.00 649.40,624.13 648.12,625.22 648.51,626.85 647.08,625.97 645.66,626.85 646.04,625.22 644.77,624.13 646.44,624.00" fill="#9c9a1c"/><polygon points="680.80,628.39 681.44,629.93 683.11,630.07 681.84,631.15 682.23,632.78 680.80,631.91 679.37,632.78 679.76,631.15 678.49,630.07 680.16,629.93" fill="#9c9a1c"/><line x1="510.0" y1="585.80" x2="526.2" y2="585.80" stroke="#4b4b4b" stroke-width="1.1"/><rect x="516.30" y="584.00" width="3.60" height="3.60" fill="#4b4b4b"/><text x="528.0" y="588.3" font-size="7.0" fill="#111" text-anchor="start" textLength="63.0" lengthAdjust="spacingAndGlyphs">Fab4-BiLockC.-FabA</text><line x1="510.0" y1="594.22" x2="526.2" y2="594.22" stroke="#f04a4a" stroke-width="1.1"/><circle cx="518.10" cy="594.22" r="1.98" fill="#f04a4a"/><text x="528.0" y="596.7" font-size="7.0" fill="#111" text-anchor="start" textLength="63.0" lengthAdjust="spacingAndGlyphs">Fab4-BiLockC.-FabB</text><line x1="510.0" y1="602.64" x2="526.2" y2="602.64" stroke="#2468e6" stroke-width="1.1"/><polygon points="518.10,600.30 520.32,604.04 515.88,604.04" fill="#2468e6"/><text x="528.0" y="605.1" font-size="7.0" fill="#111" text-anchor="start" textLength="63.0" lengthAdjust="spacingAndGlyphs">Fab4-BiLockC.-FabC</text><line x1="510.0" y1="611.06" x2="526.2" y2="611.06" stroke="#33a86e" stroke-width="1.1"/><polygon points="518.10,613.40 520.32,609.66 515.88,609.66" fill="#33a86e"/><text x="528.0" y="613.6" font-size="7.0" fill="#111" text-anchor="start" textLength="63.0" lengthAdjust="spacingAndGlyphs">Fab4-BiLockC.-FabD</text><line x1="510.0" y1="619.48" x2="526.2" y2="619.48" stroke="#b47af0" stroke-width="1.1"/><polygon points="518.10,617.14 520.44,619.48 518.10,621.82 515.76,619.48" fill="#b47af0"/><text x="528.0" y="622.0" font-size="7.0" fill="#111" text-anchor="start" textLength="63.0" lengthAdjust="spacingAndGlyphs">Fab4-BiLockC.-FabE</text><line x1="510.0" y1="627.90" x2="526.2" y2="627.90" stroke="#d2a00e" stroke-width="1.1"/><polygon points="515.76,627.90 519.50,625.68 519.50,630.12" fill="#d2a00e"/><text x="528.0" y="630.4" font-size="7.0" fill="#111" text-anchor="start" textLength="63.0" lengthAdjust="spacingAndGlyphs">Fab4-BiLockC.-FabF</text><line x1="510.0" y1="636.32" x2="526.2" y2="636.32" stroke="#1ac8d2" stroke-width="1.1"/><polygon points="520.44,636.32 516.70,634.10 516.70,638.54" fill="#1ac8d2"/><text x="528.0" y="638.8" font-size="7.0" fill="#111" text-anchor="start" textLength="63.0" lengthAdjust="spacingAndGlyphs">Fab4-BiLockC.-FabG</text><line x1="510.0" y1="644.74" x2="526.2" y2="644.74" stroke="#7b4c48" stroke-width="1.1"/><polygon points="518.10,646.72 516.39,645.73 516.39,643.75 518.10,642.76 519.81,643.75 519.81,645.73" fill="#7b4c48"/><text x="528.0" y="647.2" font-size="7.0" fill="#111" text-anchor="start" textLength="63.0" lengthAdjust="spacingAndGlyphs">Fab4-BiLockC.-FabH</text><line x1="510.0" y1="653.16" x2="526.2" y2="653.16" stroke="#9c9a1c" stroke-width="1.1"/><polygon points="518.10,650.73 518.74,652.28 520.41,652.41 519.14,653.50 519.53,655.13 518.10,654.25 516.67,655.13 517.06,653.50 515.79,652.41 517.46,652.28" fill="#9c9a1c"/><text x="528.0" y="655.7" font-size="7.0" fill="#111" text-anchor="start" textLength="63.0" lengthAdjust="spacingAndGlyphs">Fab4-BiLockC.-FabI</text><text x="483.0" y="18.0" font-size="25" fill="#000" text-anchor="start">B</text>
<path d="M57.9,394.5 V688.5 M57.25,685.3 H419.5" fill="none" stroke="#333" stroke-width="1.3"/><path d="M57.9,677.10 h-5 M57.9,643.84 h-5 M57.9,610.58 h-5 M57.9,577.32 h-5 M57.9,544.06 h-5 M57.9,510.80 h-5 M57.9,477.54 h-5 M57.9,444.28 h-5 M57.9,411.02 h-5 M57.9,660.47 h-3 M57.9,627.21 h-3 M57.9,593.95 h-3 M57.9,560.69 h-3 M57.9,527.43 h-3 M57.9,494.17 h-3 M57.9,460.91 h-3 M57.9,427.65 h-3 M57.9,394.39 h-3 M63.00,685.3 v5 M180.30,685.3 v5 M297.60,685.3 v5 M414.90,685.3 v5 M98.31,685.3 v3 M118.97,685.3 v3 M133.62,685.3 v3 M144.99,685.3 v3 M154.28,685.3 v3 M162.13,685.3 v3 M168.93,685.3 v3 M174.93,685.3 v3 M215.61,685.3 v3 M236.27,685.3 v3 M250.92,685.3 v3 M262.29,685.3 v3 M271.58,685.3 v3 M279.43,685.3 v3 M286.23,685.3 v3 M292.23,685.3 v3 M332.91,685.3 v3 M353.57,685.3 v3 M368.22,685.3 v3 M379.59,685.3 v3 M388.88,685.3 v3 M396.73,685.3 v3 M403.53,685.3 v3 M409.53,685.3 v3" stroke="#333" stroke-width="1.1" fill="none"/><text x="48.6" y="681.4" font-size="12.0" fill="#1a1a1a" text-anchor="end">0</text><text x="48.6" y="648.1" font-size="12.0" fill="#1a1a1a" text-anchor="end">20</text><text x="48.6" y="614.9" font-size="12.0" fill="#1a1a1a" text-anchor="end">40</text><text x="48.6" y="581.6" font-size="12.0" fill="#1a1a1a" text-anchor="end">60</text><text x="48.6" y="548.4" font-size="12.0" fill="#1a1a1a" text-anchor="end">80</text><text x="48.6" y="515.1" font-size="12.0" fill="#1a1a1a" text-anchor="end">100</text><text x="48.6" y="481.8" font-size="12.0" fill="#1a1a1a" text-anchor="end">120</text><text x="48.6" y="448.6" font-size="12.0" fill="#1a1a1a" text-anchor="end">140</text><text x="48.6" y="415.3" font-size="12.0" fill="#1a1a1a" text-anchor="end">160</text><text x="63.0" y="704.5" font-size="12.0" fill="#1a1a1a" text-anchor="middle">0.1</text><text x="180.3" y="704.5" font-size="12.0" fill="#1a1a1a" text-anchor="middle">1</text><text x="297.6" y="704.5" font-size="12.0" fill="#1a1a1a" text-anchor="middle">10</text><text x="414.9" y="704.5" font-size="12.0" fill="#1a1a1a" text-anchor="middle">100</text><text x="192.3" y="727.5" font-size="14.6" fill="#1a1a1a" text-anchor="start" textLength="90.2" lengthAdjust="spacingAndGlyphs">Antibody (nM)</text><text transform="translate(21.6,644.4) rotate(-90)" font-size="14.2" fill="#1a1a1a" textLength="206.3" lengthAdjust="spacingAndGlyphs">Relative luminescent signal (%)</text><text x="0.0" y="389.4" font-size="25" fill="#000" text-anchor="start">C</text><path d="M273.66,633.53 V623.55 M270.16,633.53 h7 M270.16,623.55 h7 M308.97,506.31 V427.48 M305.47,506.31 h7 M305.47,427.48 h7 M344.28,496.00 V423.83 M340.78,496.00 h7 M340.78,423.83 h7 M379.59,481.20 V433.30 M376.09,481.20 h7 M376.09,433.30 h7 M414.90,473.38 V447.44 M411.40,473.38 h7 M411.40,447.44 h7" stroke="#4b4b4b" stroke-opacity="0.75" stroke-width="1.1" fill="none"/><path d="M273.66,609.08 V600.77 M270.16,609.08 h7 M270.16,600.77 h7 M308.97,433.30 V404.37 M305.47,433.30 h7 M305.47,404.37 h7 M344.28,427.15 V405.53 M340.78,427.15 h7 M340.78,405.53 h7 M379.59,435.47 V405.53 M376.09,435.47 h7 M376.09,405.53 h7 M414.90,444.28 V428.32 M411.40,444.28 h7 M411.40,428.32 h7" stroke="#f04a4a" stroke-opacity="0.75" stroke-width="1.1" fill="none"/><path d="M414.90,640.18 V634.19 M411.40,640.18 h7 M411.40,634.19 h7" stroke="#2468e6" stroke-opacity="0.9" stroke-width="1.1" fill="none"/><path d="M344.28,650.49 V642.18 M340.78,650.49 h7 M340.78,642.18 h7 M414.90,562.35 V557.36 M411.40,562.35 h7 M411.40,557.36 h7" stroke="#33a86e" stroke-opacity="0.9" stroke-width="1.1" fill="none"/><path d="M414.90,584.14 V579.15 M411.40,584.14 h7 M411.40,579.15 h7" stroke="#1ac8d2" stroke-opacity="0.9" stroke-width="1.1" fill="none"/><path d="M379.59,607.42 V588.46 M376.09,607.42 h7 M376.09,588.46 h7 M414.90,550.38 V532.09 M411.40,550.38 h7 M411.40,532.09 h7" stroke="#7b4c48" stroke-opacity="0.9" stroke-width="1.1" fill="none"/><rect x="58.39" y="666.38" width="6.80" height="6.80" fill="#4b4b4b"/><rect x="93.70" y="666.38" width="6.80" height="6.80" fill="#4b4b4b"/><rect x="129.01" y="666.38" width="6.80" height="6.80" fill="#4b4b4b"/><rect x="164.32" y="666.38" width="6.80" height="6.80" fill="#4b4b4b"/><rect x="199.64" y="666.38" width="6.80" height="6.80" fill="#4b4b4b"/><rect x="234.95" y="666.38" width="6.80" height="6.80" fill="#4b4b4b"/><rect x="270.26" y="625.14" width="6.80" height="6.80" fill="#4b4b4b"/><rect x="305.57" y="463.50" width="6.80" height="6.80" fill="#4b4b4b"/><rect x="340.88" y="456.51" width="6.80" height="6.80" fill="#4b4b4b"/><rect x="376.19" y="453.85" width="6.80" height="6.80" fill="#4b4b4b"/><rect x="411.50" y="457.01" width="6.80" height="6.80" fill="#4b4b4b"/><circle cx="61.79" cy="668.45" r="3.74" fill="#f04a4a"/><circle cx="97.10" cy="668.45" r="3.74" fill="#f04a4a"/><circle cx="132.41" cy="668.45" r="3.74" fill="#f04a4a"/><circle cx="167.72" cy="668.45" r="3.74" fill="#f04a4a"/><circle cx="203.04" cy="668.45" r="3.74" fill="#f04a4a"/><circle cx="238.35" cy="668.45" r="3.74" fill="#f04a4a"/><circle cx="273.66" cy="604.93" r="3.74" fill="#f04a4a"/><circle cx="308.97" cy="418.84" r="3.74" fill="#f04a4a"/><circle cx="344.28" cy="416.34" r="3.74" fill="#f04a4a"/><circle cx="379.59" cy="420.50" r="3.74" fill="#f04a4a"/><circle cx="414.90" cy="436.30" r="3.74" fill="#f04a4a"/><polygon points="61.79,664.86 65.99,671.94 57.59,671.94" fill="#2468e6"/><polygon points="97.10,664.86 101.30,671.94 92.90,671.94" fill="#2468e6"/><polygon points="132.41,664.86 136.61,671.94 128.21,671.94" fill="#2468e6"/><polygon points="167.72,664.86 171.92,671.94 163.53,671.94" fill="#2468e6"/><polygon points="203.04,664.86 207.23,671.94 198.84,671.94" fill="#2468e6"/><polygon points="238.35,664.86 242.54,671.94 234.15,671.94" fill="#2468e6"/><polygon points="273.66,664.86 277.86,671.94 269.46,671.94" fill="#2468e6"/><polygon points="308.97,664.86 313.17,671.94 304.77,671.94" fill="#2468e6"/><polygon points="344.28,661.37 348.48,668.44 340.08,668.44" fill="#2468e6"/><polygon points="379.59,655.38 383.79,662.46 375.39,662.46" fill="#2468e6"/><polygon points="414.90,632.77 419.10,639.84 410.70,639.84" fill="#2468e6"/><polygon points="61.79,673.37 65.99,666.30 57.59,666.30" fill="#33a86e"/><polygon points="97.10,673.37 101.30,666.30 92.90,666.30" fill="#33a86e"/><polygon points="132.41,673.37 136.61,666.30 128.21,666.30" fill="#33a86e"/><polygon points="167.72,673.37 171.92,666.30 163.53,666.30" fill="#33a86e"/><polygon points="203.04,673.37 207.23,666.30 198.84,666.30" fill="#33a86e"/><polygon points="238.35,673.37 242.54,666.30 234.15,666.30" fill="#33a86e"/><polygon points="273.66,673.37 277.86,666.30 269.46,666.30" fill="#33a86e"/><polygon points="308.97,666.39 313.17,659.31 304.77,659.31" fill="#33a86e"/><polygon points="344.28,650.75 348.48,643.68 340.08,643.68" fill="#33a86e"/><polygon points="379.59,605.69 383.79,598.62 375.39,598.62" fill="#33a86e"/><polygon points="414.90,564.28 419.10,557.21 410.70,557.21" fill="#33a86e"/><polygon points="61.79,666.19 66.21,670.61 61.79,675.03 57.37,670.61" fill="#b47af0"/><polygon points="97.10,666.19 101.52,670.61 97.10,675.03 92.68,670.61" fill="#b47af0"/><polygon points="132.41,666.19 136.83,670.61 132.41,675.03 127.99,670.61" fill="#b47af0"/><polygon points="167.72,666.19 172.14,670.61 167.72,675.03 163.30,670.61" fill="#b47af0"/><polygon points="203.04,666.19 207.46,670.61 203.04,675.03 198.62,670.61" fill="#b47af0"/><polygon points="238.35,666.19 242.77,670.61 238.35,675.03 233.93,670.61" fill="#b47af0"/><polygon points="273.66,666.19 278.08,670.61 273.66,675.03 269.24,670.61" fill="#b47af0"/><polygon points="308.97,666.19 313.39,670.61 308.97,675.03 304.55,670.61" fill="#b47af0"/><polygon points="344.28,666.19 348.70,670.61 344.28,675.03 339.86,670.61" fill="#b47af0"/><polygon points="379.59,666.19 384.01,670.61 379.59,675.03 375.17,670.61" fill="#b47af0"/><polygon points="414.90,666.19 419.32,670.61 414.90,675.03 410.48,670.61" fill="#b47af0"/><polygon points="57.37,670.12 64.44,665.92 64.44,674.31" fill="#d2a00e"/><polygon points="92.68,670.12 99.75,665.92 99.75,674.31" fill="#d2a00e"/><polygon points="127.99,670.12 135.07,665.92 135.07,674.31" fill="#d2a00e"/><polygon points="163.30,670.12 170.38,665.92 170.38,674.31" fill="#d2a00e"/><polygon points="198.62,670.12 205.69,665.92 205.69,674.31" fill="#d2a00e"/><polygon points="233.93,670.12 241.00,665.92 241.00,674.31" fill="#d2a00e"/><polygon points="269.24,670.12 276.31,665.92 276.31,674.31" fill="#d2a00e"/><polygon points="304.55,670.12 311.62,665.92 311.62,674.31" fill="#d2a00e"/><polygon points="339.86,670.12 346.93,665.92 346.93,674.31" fill="#d2a00e"/><polygon points="375.17,667.62 382.24,663.42 382.24,671.82" fill="#d2a00e"/><polygon points="410.48,663.13 417.55,658.93 417.55,667.33" fill="#d2a00e"/><polygon points="66.21,670.95 59.14,666.75 59.14,675.15" fill="#1ac8d2"/><polygon points="101.52,670.95 94.45,666.75 94.45,675.15" fill="#1ac8d2"/><polygon points="136.83,670.95 129.76,666.75 129.76,675.15" fill="#1ac8d2"/><polygon points="172.14,670.95 165.07,666.75 165.07,675.15" fill="#1ac8d2"/><polygon points="207.46,670.95 200.38,666.75 200.38,675.15" fill="#1ac8d2"/><polygon points="242.77,670.95 235.69,666.75 235.69,675.15" fill="#1ac8d2"/><polygon points="278.08,670.95 271.00,666.75 271.00,675.15" fill="#1ac8d2"/><polygon points="313.39,670.95 306.32,666.75 306.32,675.15" fill="#1ac8d2"/><polygon points="348.70,661.14 341.63,656.94 341.63,665.33" fill="#1ac8d2"/><polygon points="384.01,625.38 376.94,621.18 376.94,629.58" fill="#1ac8d2"/><polygon points="419.32,581.64 412.25,577.44 412.25,585.84" fill="#1ac8d2"/><polygon points="61.79,673.69 58.55,671.82 58.55,668.08 61.79,666.21 65.03,668.08 65.03,671.82" fill="#7b4c48"/><polygon points="97.10,673.69 93.86,671.82 93.86,668.08 97.10,666.21 100.34,668.08 100.34,671.82" fill="#7b4c48"/><polygon points="132.41,673.69 129.17,671.82 129.17,668.08 132.41,666.21 135.65,668.08 135.65,671.82" fill="#7b4c48"/><polygon points="167.72,673.69 164.49,671.82 164.49,668.08 167.72,666.21 170.96,668.08 170.96,671.82" fill="#7b4c48"/><polygon points="203.04,673.69 199.80,671.82 199.80,668.08 203.04,666.21 206.27,668.08 206.27,671.82" fill="#7b4c48"/><polygon points="238.35,673.69 235.11,671.82 235.11,668.08 238.35,666.21 241.58,668.08 241.58,671.82" fill="#7b4c48"/><polygon points="273.66,673.69 270.42,671.82 270.42,668.08 273.66,666.21 276.90,668.08 276.90,671.82" fill="#7b4c48"/><polygon points="308.97,673.69 305.73,671.82 305.73,668.08 308.97,666.21 312.21,668.08 312.21,671.82" fill="#7b4c48"/><polygon points="344.28,657.72 341.04,655.85 341.04,652.11 344.28,650.24 347.52,652.11 347.52,655.85" fill="#7b4c48"/><polygon points="379.59,601.68 376.35,599.81 376.35,596.07 379.59,594.20 382.83,596.07 382.83,599.81" fill="#7b4c48"/><polygon points="414.90,544.97 411.66,543.10 411.66,539.36 414.90,537.49 418.14,539.36 418.14,543.10" fill="#7b4c48"/><polyline points="58.40,669.45 59.29,669.45 60.19,669.45 61.08,669.45 61.98,669.45 62.87,669.45 63.77,669.45 64.66,669.45 65.55,669.45 66.45,669.45 67.34,669.45 68.24,669.45 69.13,669.45 70.03,669.45 70.92,669.45 71.81,669.45 72.71,669.45 73.60,669.45 74.50,669.45 75.39,669.45 76.28,669.45 77.18,669.45 78.07,669.45 78.97,669.45 79.86,669.45 80.76,669.45 81.65,669.45 82.54,669.45 83.44,669.45 84.33,669.45 85.23,669.45 86.12,669.45 87.02,669.45 87.91,669.45 88.80,669.45 89.70,669.45 90.59,669.45 91.49,669.45 92.38,669.45 93.28,669.45 94.17,669.45 95.06,669.45 95.96,669.45 96.85,669.45 97.75,669.45 98.64,669.45 99.53,669.45 100.43,669.45 101.32,669.45 102.22,669.45 103.11,669.45 104.01,669.45 104.90,669.45 105.79,669.45 106.69,669.45 107.58,669.45 108.48,669.45 109.37,669.45 110.27,669.45 111.16,669.45 112.05,669.45 112.95,669.45 113.84,669.45 114.74,669.45 115.63,669.45 116.53,669.45 117.42,669.45 118.31,669.45 119.21,669.45 120.10,669.45 121.00,669.45 121.89,669.45 122.78,669.45 123.68,669.45 124.57,669.45 125.47,669.45 126.36,669.45 127.26,669.45 128.15,669.45 129.04,669.45 129.94,669.45 130.83,669.45 131.73,669.45 132.62,669.45 133.52,669.45 134.41,669.45 135.30,669.45 136.20,669.45 137.09,669.45 137.99,669.45 138.88,669.45 139.78,669.45 140.67,669.45 141.56,669.45 142.46,669.45 143.35,669.45 144.25,669.45 145.14,669.45 146.04,669.45 146.93,669.45 147.82,669.45 148.72,669.45 149.61,669.45 150.51,669.45 151.40,669.45 152.29,669.45 153.19,669.45 154.08,669.45 154.98,669.45 155.87,669.45 156.77,669.45 157.66,669.45 158.55,669.45 159.45,669.45 160.34,669.45 161.24,669.45 162.13,669.45 163.03,669.45 163.92,669.45 164.81,669.45 165.71,669.45 166.60,669.45 167.50,669.45 168.39,669.45 169.29,669.45 170.18,669.45 171.07,669.45 171.97,669.45 172.86,669.45 173.76,669.45 174.65,669.45 175.54,669.45 176.44,669.45 177.33,669.45 178.23,669.45 179.12,669.45 180.02,669.45 180.91,669.45 181.80,669.45 182.70,669.45 183.59,669.45 184.49,669.45 185.38,669.45 186.28,669.45 187.17,669.45 188.06,669.45 188.96,669.45 189.85,669.45 190.75,669.45 191.64,669.45 192.54,669.45 193.43,669.45 194.32,669.45 195.22,669.45 196.11,669.45 197.01,669.45 197.90,669.45 198.79,669.45 199.69,669.45 200.58,669.45 201.48,669.45 202.37,669.45 203.27,669.45 204.16,669.45 205.05,669.45 205.95,669.45 206.84,669.45 207.74,669.45 208.63,669.45 209.53,669.45 210.42,669.44 211.31,669.44 212.21,669.44 213.10,669.44 214.00,669.44 214.89,669.44 215.79,669.44 216.68,669.44 217.57,669.43 218.47,669.43 219.36,669.43 220.26,669.43 221.15,669.42 222.05,669.42 222.94,669.42 223.83,669.41 224.73,669.41 225.62,669.40 226.52,669.39 227.41,669.39 228.30,669.38 229.20,669.37 230.09,669.36 230.99,669.34 231.88,669.33 232.78,669.31 233.67,669.29 234.56,669.27 235.46,669.25 236.35,669.22 237.25,669.19 238.14,669.15 239.04,669.11 239.93,669.07 240.82,669.02 241.72,668.96 242.61,668.89 243.51,668.81 244.40,668.73 245.30,668.63 246.19,668.52 247.08,668.39 247.98,668.24 248.87,668.08 249.77,667.89 250.66,667.68 251.55,667.44 252.45,667.17 253.34,666.86 254.24,666.52 255.13,666.12 256.03,665.67 256.92,665.17 257.81,664.60 258.71,663.95 259.60,663.22 260.50,662.40 261.39,661.47 262.29,660.42 263.18,659.25 264.07,657.93 264.97,656.46 265.86,654.80 266.76,652.96 267.65,650.90 268.55,648.62 269.44,646.08 270.33,643.29 271.23,640.21 272.12,636.83 273.02,633.14 273.91,629.13 274.81,624.78 275.70,620.11 276.59,615.11 277.49,609.78 278.38,604.16 279.28,598.25 280.17,592.10 281.06,585.73 281.96,579.20 282.85,572.54 283.75,565.82 284.64,559.08 285.54,552.39 286.43,545.79 287.32,539.34 288.22,533.09 289.11,527.06 290.01,521.30 290.90,515.84 291.80,510.69 292.69,505.86 293.58,501.37 294.48,497.20 295.37,493.36 296.27,489.84 297.16,486.63 298.06,483.70 298.95,481.05 299.84,478.65 300.74,476.49 301.63,474.55 302.53,472.82 303.42,471.26 304.31,469.87 305.21,468.63 306.10,467.53 307.00,466.55 307.89,465.68 308.79,464.91 309.68,464.22 310.57,463.62 311.47,463.08 312.36,462.61 313.26,462.19 314.15,461.82 315.05,461.50 315.94,461.21 316.83,460.95 317.73,460.73 318.62,460.53 319.52,460.36 320.41,460.21 321.31,460.07 322.20,459.95 323.09,459.85 323.99,459.76 324.88,459.68 325.78,459.60 326.67,459.54 327.56,459.49 328.46,459.44 329.35,459.39 330.25,459.36 331.14,459.32 332.04,459.29 332.93,459.27 333.82,459.25 334.72,459.23 335.61,459.21 336.51,459.19 337.40,459.18 338.30,459.17 339.19,459.16 340.08,459.15 340.98,459.14 341.87,459.13 342.77,459.13 343.66,459.12 344.56,459.12 345.45,459.11 346.34,459.11 347.24,459.10 348.13,459.10 349.03,459.10 349.92,459.10 350.82,459.10 351.71,459.09 352.60,459.09 353.50,459.09 354.39,459.09 355.29,459.09 356.18,459.09 357.07,459.09 357.97,459.09 358.86,459.09 359.76,459.08 360.65,459.08 361.55,459.08 362.44,459.08 363.33,459.08 364.23,459.08 365.12,459.08 366.02,459.08 366.91,459.08 367.81,459.08 368.70,459.08 369.59,459.08 370.49,459.08 371.38,459.08 372.28,459.08 373.17,459.08 374.07,459.08 374.96,459.08 375.85,459.08 376.75,459.08 377.64,459.08 378.54,459.08 379.43,459.08 380.32,459.08 381.22,459.08 382.11,459.08 383.01,459.08 383.90,459.08 384.80,459.08 385.69,459.08 386.58,459.08 387.48,459.08 388.37,459.08 389.27,459.08 390.16,459.08 391.06,459.08 391.95,459.08 392.84,459.08 393.74,459.08 394.63,459.08 395.53,459.08 396.42,459.08 397.32,459.08 398.21,459.08 399.10,459.08 400.00,459.08 400.89,459.08 401.79,459.08 402.68,459.08 403.57,459.08 404.47,459.08 405.36,459.08 406.26,459.08 407.15,459.08 408.05,459.08 408.94,459.08 409.83,459.08 410.73,459.08 411.62,459.08 412.52,459.08 413.41,459.08 414.31,459.08 415.20,459.08" fill="none" stroke="#4b4b4b" stroke-width="1.5"/><polyline points="58.40,669.45 59.29,669.45 60.19,669.45 61.08,669.45 61.98,669.45 62.87,669.45 63.77,669.45 64.66,669.45 65.55,669.45 66.45,669.45 67.34,669.45 68.24,669.45 69.13,669.45 70.03,669.45 70.92,669.45 71.81,669.45 72.71,669.45 73.60,669.45 74.50,669.45 75.39,669.45 76.28,669.45 77.18,669.45 78.07,669.45 78.97,669.45 79.86,669.45 80.76,669.45 81.65,669.45 82.54,669.45 83.44,669.45 84.33,669.45 85.23,669.45 86.12,669.45 87.02,669.45 87.91,669.45 88.80,669.45 89.70,669.45 90.59,669.45 91.49,669.45 92.38,669.45 93.28,669.45 94.17,669.45 95.06,669.45 95.96,669.45 96.85,669.45 97.75,669.45 98.64,669.45 99.53,669.45 100.43,669.45 101.32,669.45 102.22,669.45 103.11,669.45 104.01,669.45 104.90,669.45 105.79,669.45 106.69,669.45 107.58,669.45 108.48,669.45 109.37,669.45 110.27,669.45 111.16,669.45 112.05,669.45 112.95,669.45 113.84,669.45 114.74,669.45 115.63,669.45 116.53,669.45 117.42,669.45 118.31,669.45 119.21,669.45 120.10,669.45 121.00,669.45 121.89,669.45 122.78,669.45 123.68,669.45 124.57,669.45 125.47,669.45 126.36,669.45 127.26,669.45 128.15,669.45 129.04,669.45 129.94,669.45 130.83,669.45 131.73,669.45 132.62,669.45 133.52,669.45 134.41,669.45 135.30,669.45 136.20,669.45 137.09,669.45 137.99,669.45 138.88,669.45 139.78,669.45 140.67,669.45 141.56,669.45 142.46,669.45 143.35,669.45 144.25,669.45 145.14,669.45 146.04,669.45 146.93,669.45 147.82,669.45 148.72,669.45 149.61,669.45 150.51,669.45 151.40,669.45 152.29,669.45 153.19,669.45 154.08,669.45 154.98,669.45 155.87,669.45 156.77,669.45 157.66,669.45 158.55,669.45 159.45,669.45 160.34,669.45 161.24,669.45 162.13,669.45 163.03,669.45 163.92,669.45 164.81,669.45 165.71,669.45 166.60,669.45 167.50,669.45 168.39,669.45 169.29,669.45 170.18,669.45 171.07,669.45 171.97,669.45 172.86,669.45 173.76,669.45 174.65,669.45 175.54,669.45 176.44,669.45 177.33,669.45 178.23,669.45 179.12,669.45 180.02,669.45 180.91,669.45 181.80,669.45 182.70,669.45 183.59,669.45 184.49,669.45 185.38,669.45 186.28,669.45 187.17,669.45 188.06,669.45 188.96,669.45 189.85,669.45 190.75,669.45 191.64,669.45 192.54,669.45 193.43,669.45 194.32,669.45 195.22,669.45 196.11,669.45 197.01,669.45 197.90,669.45 198.79,669.45 199.69,669.45 200.58,669.45 201.48,669.45 202.37,669.45 203.27,669.45 204.16,669.45 205.05,669.45 205.95,669.45 206.84,669.45 207.74,669.45 208.63,669.45 209.53,669.45 210.42,669.45 211.31,669.45 212.21,669.45 213.10,669.45 214.00,669.45 214.89,669.45 215.79,669.45 216.68,669.45 217.57,669.45 218.47,669.45 219.36,669.45 220.26,669.45 221.15,669.45 222.05,669.45 222.94,669.45 223.83,669.45 224.73,669.45 225.62,669.45 226.52,669.45 227.41,669.45 228.30,669.45 229.20,669.45 230.09,669.45 230.99,669.44 231.88,669.44 232.78,669.44 233.67,669.44 234.56,669.44 235.46,669.43 236.35,669.43 237.25,669.43 238.14,669.42 239.04,669.41 239.93,669.41 240.82,669.40 241.72,669.39 242.61,669.37 243.51,669.35 244.40,669.33 245.30,669.31 246.19,669.27 247.08,669.23 247.98,669.19 248.87,669.13 249.77,669.05 250.66,668.97 251.55,668.86 252.45,668.72 253.34,668.56 254.24,668.37 255.13,668.12 256.03,667.83 256.92,667.47 257.81,667.03 258.71,666.50 259.60,665.85 260.50,665.06 261.39,664.09 262.29,662.93 263.18,661.51 264.07,659.81 264.97,657.76 265.86,655.29 266.76,652.34 267.65,648.84 268.55,644.69 269.44,639.82 270.33,634.14 271.23,627.58 272.12,620.09 273.02,611.64 273.91,602.24 274.81,591.94 275.70,580.84 276.59,569.09 277.49,556.90 278.38,544.50 279.28,532.13 280.17,520.05 281.06,508.47 281.96,497.59 282.85,487.54 283.75,478.41 284.64,470.24 285.54,463.03 286.43,456.74 287.32,451.30 288.22,446.65 289.11,442.69 290.01,439.36 290.90,436.56 291.80,434.22 292.69,432.27 293.58,430.66 294.48,429.32 295.37,428.22 296.27,427.31 297.16,426.56 298.06,425.95 298.95,425.44 299.84,425.03 300.74,424.69 301.63,424.41 302.53,424.18 303.42,424.00 304.31,423.84 305.21,423.72 306.10,423.62 307.00,423.53 307.89,423.47 308.79,423.41 309.68,423.36 310.57,423.33 311.47,423.30 312.36,423.27 313.26,423.25 314.15,423.23 315.05,423.22 315.94,423.21 316.83,423.20 317.73,423.19 318.62,423.19 319.52,423.18 320.41,423.18 321.31,423.17 322.20,423.17 323.09,423.17 323.99,423.17 324.88,423.17 325.78,423.17 326.67,423.16 327.56,423.16 328.46,423.16 329.35,423.16 330.25,423.16 331.14,423.16 332.04,423.16 332.93,423.16 333.82,423.16 334.72,423.16 335.61,423.16 336.51,423.16 337.40,423.16 338.30,423.16 339.19,423.16 340.08,423.16 340.98,423.16 341.87,423.16 342.77,423.16 343.66,423.16 344.56,423.16 345.45,423.16 346.34,423.16 347.24,423.16 348.13,423.16 349.03,423.16 349.92,423.16 350.82,423.16 351.71,423.16 352.60,423.16 353.50,423.16 354.39,423.16 355.29,423.16 356.18,423.16 357.07,423.16 357.97,423.16 358.86,423.16 359.76,423.16 360.65,423.16 361.55,423.16 362.44,423.16 363.33,423.16 364.23,423.16 365.12,423.16 366.02,423.16 366.91,423.16 367.81,423.16 368.70,423.16 369.59,423.16 370.49,423.16 371.38,423.16 372.28,423.16 373.17,423.16 374.07,423.16 374.96,423.16 375.85,423.16 376.75,423.16 377.64,423.16 378.54,423.16 379.43,423.16 380.32,423.16 381.22,423.16 382.11,423.16 383.01,423.16 383.90,423.16 384.80,423.16 385.69,423.16 386.58,423.16 387.48,423.16 388.37,423.16 389.27,423.16 390.16,423.16 391.06,423.16 391.95,423.16 392.84,423.16 393.74,423.16 394.63,423.16 395.53,423.16 396.42,423.16 397.32,423.16 398.21,423.16 399.10,423.16 400.00,423.16 400.89,423.16 401.79,423.16 402.68,423.16 403.57,423.16 404.47,423.16 405.36,423.16 406.26,423.16 407.15,423.16 408.05,423.16 408.94,423.16 409.83,423.16 410.73,423.16 411.62,423.16 412.52,423.16 413.41,423.16 414.31,423.16 415.20,423.16" fill="none" stroke="#f04a4a" stroke-width="1.5"/><polyline points="58.40,669.45 59.29,669.45 60.19,669.45 61.08,669.45 61.98,669.45 62.87,669.45 63.77,669.45 64.66,669.45 65.55,669.45 66.45,669.45 67.34,669.45 68.24,669.45 69.13,669.45 70.03,669.45 70.92,669.45 71.81,669.45 72.71,669.45 73.60,669.45 74.50,669.45 75.39,669.45 76.28,669.45 77.18,669.45 78.07,669.45 78.97,669.45 79.86,669.45 80.76,669.45 81.65,669.45 82.54,669.45 83.44,669.45 84.33,669.45 85.23,669.45 86.12,669.45 87.02,669.45 87.91,669.45 88.80,669.45 89.70,669.45 90.59,669.45 91.49,669.45 92.38,669.45 93.28,669.45 94.17,669.45 95.06,669.45 95.96,669.45 96.85,669.45 97.75,669.45 98.64,669.45 99.53,669.45 100.43,669.45 101.32,669.45 102.22,669.45 103.11,669.45 104.01,669.45 104.90,669.45 105.79,669.45 106.69,669.45 107.58,669.45 108.48,669.45 109.37,669.45 110.27,669.45 111.16,669.45 112.05,669.45 112.95,669.45 113.84,669.45 114.74,669.45 115.63,669.45 116.53,669.45 117.42,669.45 118.31,669.45 119.21,669.45 120.10,669.45 121.00,669.45 121.89,669.45 122.78,669.45 123.68,669.45 124.57,669.45 125.47,669.45 126.36,669.45 127.26,669.45 128.15,669.45 129.04,669.45 129.94,669.45 130.83,669.45 131.73,669.45 132.62,669.45 133.52,669.45 134.41,669.45 135.30,669.45 136.20,669.45 137.09,669.45 137.99,669.45 138.88,669.45 139.78,669.45 140.67,669.45 141.56,669.45 142.46,669.45 143.35,669.45 144.25,669.45 145.14,669.45 146.04,669.45 146.93,669.45 147.82,669.45 148.72,669.45 149.61,669.45 150.51,669.45 151.40,669.45 152.29,669.45 153.19,669.45 154.08,669.45 154.98,669.45 155.87,669.45 156.77,669.45 157.66,669.45 158.55,669.45 159.45,669.45 160.34,669.45 161.24,669.45 162.13,669.44 163.03,669.44 163.92,669.44 164.81,669.44 165.71,669.44 166.60,669.44 167.50,669.44 168.39,669.44 169.29,669.44 170.18,669.44 171.07,669.44 171.97,669.44 172.86,669.44 173.76,669.44 174.65,669.44 175.54,669.44 176.44,669.44 177.33,669.44 178.23,669.44 179.12,669.44 180.02,669.44 180.91,669.44 181.80,669.44 182.70,669.44 183.59,669.44 184.49,669.44 185.38,669.44 186.28,669.44 187.17,669.44 188.06,669.44 188.96,669.44 189.85,669.44 190.75,669.44 191.64,669.44 192.54,669.43 193.43,669.43 194.32,669.43 195.22,669.43 196.11,669.43 197.01,669.43 197.90,669.43 198.79,669.43 199.69,669.43 200.58,669.43 201.48,669.43 202.37,669.43 203.27,669.43 204.16,669.43 205.05,669.43 205.95,669.43 206.84,669.43 207.74,669.42 208.63,669.42 209.53,669.42 210.42,669.42 211.31,669.42 212.21,669.42 213.10,669.42 214.00,669.42 214.89,669.42 215.79,669.42 216.68,669.41 217.57,669.41 218.47,669.41 219.36,669.41 220.26,669.41 221.15,669.41 222.05,669.41 222.94,669.41 223.83,669.40 224.73,669.40 225.62,669.40 226.52,669.40 227.41,669.40 228.30,669.40 229.20,669.40 230.09,669.39 230.99,669.39 231.88,669.39 232.78,669.39 233.67,669.39 234.56,669.38 235.46,669.38 236.35,669.38 237.25,669.38 238.14,669.38 239.04,669.37 239.93,669.37 240.82,669.37 241.72,669.37 242.61,669.36 243.51,669.36 244.40,669.36 245.30,669.36 246.19,669.35 247.08,669.35 247.98,669.35 248.87,669.34 249.77,669.34 250.66,669.34 251.55,669.33 252.45,669.33 253.34,669.32 254.24,669.32 255.13,669.32 256.03,669.31 256.92,669.31 257.81,669.30 258.71,669.30 259.60,669.29 260.50,669.29 261.39,669.28 262.29,669.28 263.18,669.27 264.07,669.27 264.97,669.26 265.86,669.26 266.76,669.25 267.65,669.24 268.55,669.24 269.44,669.23 270.33,669.22 271.23,669.22 272.12,669.21 273.02,669.20 273.91,669.19 274.81,669.19 275.70,669.18 276.59,669.17 277.49,669.16 278.38,669.15 279.28,669.14 280.17,669.13 281.06,669.12 281.96,669.11 282.85,669.10 283.75,669.09 284.64,669.08 285.54,669.07 286.43,669.05 287.32,669.04 288.22,669.03 289.11,669.02 290.01,669.00 290.90,668.99 291.80,668.97 292.69,668.96 293.58,668.94 294.48,668.93 295.37,668.91 296.27,668.89 297.16,668.88 298.06,668.86 298.95,668.84 299.84,668.82 300.74,668.80 301.63,668.78 302.53,668.76 303.42,668.74 304.31,668.72 305.21,668.69 306.10,668.67 307.00,668.64 307.89,668.62 308.79,668.59 309.68,668.57 310.57,668.54 311.47,668.51 312.36,668.48 313.26,668.45 314.15,668.42 315.05,668.39 315.94,668.35 316.83,668.32 317.73,668.28 318.62,668.25 319.52,668.21 320.41,668.17 321.31,668.13 322.20,668.09 323.09,668.04 323.99,668.00 324.88,667.95 325.78,667.91 326.67,667.86 327.56,667.81 328.46,667.76 329.35,667.70 330.25,667.65 331.14,667.59 332.04,667.54 332.93,667.48 333.82,667.41 334.72,667.35 335.61,667.28 336.51,667.22 337.40,667.15 338.30,667.07 339.19,667.00 340.08,666.92 340.98,666.84 341.87,666.76 342.77,666.68 343.66,666.59 344.56,666.50 345.45,666.41 346.34,666.31 347.24,666.21 348.13,666.11 349.03,666.01 349.92,665.90 350.82,665.79 351.71,665.67 352.60,665.56 353.50,665.43 354.39,665.31 355.29,665.18 356.18,665.05 357.07,664.91 357.97,664.77 358.86,664.62 359.76,664.47 360.65,664.31 361.55,664.15 362.44,663.99 363.33,663.82 364.23,663.64 365.12,663.46 366.02,663.27 366.91,663.08 367.81,662.88 368.70,662.68 369.59,662.47 370.49,662.25 371.38,662.03 372.28,661.80 373.17,661.56 374.07,661.31 374.96,661.06 375.85,660.80 376.75,660.53 377.64,660.25 378.54,659.97 379.43,659.68 380.32,659.37 381.22,659.06 382.11,658.74 383.01,658.41 383.90,658.07 384.80,657.71 385.69,657.35 386.58,656.98 387.48,656.59 388.37,656.20 389.27,655.79 390.16,655.37 391.06,654.93 391.95,654.49 392.84,654.03 393.74,653.55 394.63,653.07 395.53,652.56 396.42,652.05 397.32,651.51 398.21,650.97 399.10,650.40 400.00,649.82 400.89,649.22 401.79,648.60 402.68,647.97 403.57,647.32 404.47,646.64 405.36,645.95 406.26,645.24 407.15,644.51 408.05,643.75 408.94,642.98 409.83,642.18 410.73,641.36 411.62,640.51 412.52,639.64 413.41,638.75 414.31,637.83 415.20,636.88" fill="none" stroke="#2468e6" stroke-width="1.5"/><polyline points="58.40,669.45 59.29,669.45 60.19,669.45 61.08,669.45 61.98,669.45 62.87,669.45 63.77,669.45 64.66,669.45 65.55,669.45 66.45,669.45 67.34,669.45 68.24,669.45 69.13,669.45 70.03,669.45 70.92,669.45 71.81,669.45 72.71,669.45 73.60,669.45 74.50,669.45 75.39,669.45 76.28,669.45 77.18,669.45 78.07,669.45 78.97,669.45 79.86,669.45 80.76,669.45 81.65,669.45 82.54,669.45 83.44,669.45 84.33,669.45 85.23,669.45 86.12,669.45 87.02,669.45 87.91,669.45 88.80,669.45 89.70,669.45 90.59,669.45 91.49,669.45 92.38,669.45 93.28,669.45 94.17,669.45 95.06,669.45 95.96,669.45 96.85,669.45 97.75,669.45 98.64,669.45 99.53,669.45 100.43,669.45 101.32,669.45 102.22,669.45 103.11,669.45 104.01,669.45 104.90,669.45 105.79,669.45 106.69,669.45 107.58,669.45 108.48,669.45 109.37,669.45 110.27,669.45 111.16,669.45 112.05,669.45 112.95,669.45 113.84,669.45 114.74,669.45 115.63,669.45 116.53,669.45 117.42,669.45 118.31,669.45 119.21,669.45 120.10,669.45 121.00,669.45 121.89,669.45 122.78,669.45 123.68,669.45 124.57,669.45 125.47,669.45 126.36,669.45 127.26,669.45 128.15,669.45 129.04,669.45 129.94,669.45 130.83,669.45 131.73,669.45 132.62,669.45 133.52,669.45 134.41,669.45 135.30,669.45 136.20,669.45 137.09,669.45 137.99,669.45 138.88,669.45 139.78,669.45 140.67,669.45 141.56,669.45 142.46,669.45 143.35,669.45 144.25,669.45 145.14,669.45 146.04,669.45 146.93,669.45 147.82,669.45 148.72,669.45 149.61,669.45 150.51,669.45 151.40,669.44 152.29,669.44 153.19,669.44 154.08,669.44 154.98,669.44 155.87,669.44 156.77,669.44 157.66,669.44 158.55,669.44 159.45,669.44 160.34,669.44 161.24,669.44 162.13,669.44 163.03,669.44 163.92,669.44 164.81,669.44 165.71,669.44 166.60,669.44 167.50,669.44 168.39,669.44 169.29,669.44 170.18,669.44 171.07,669.44 171.97,669.44 172.86,669.44 173.76,669.44 174.65,669.44 175.54,669.43 176.44,669.43 177.33,669.43 178.23,669.43 179.12,669.43 180.02,669.43 180.91,669.43 181.80,669.43 182.70,669.43 183.59,669.43 184.49,669.43 185.38,669.43 186.28,669.42 187.17,669.42 188.06,669.42 188.96,669.42 189.85,669.42 190.75,669.42 191.64,669.42 192.54,669.42 193.43,669.42 194.32,669.41 195.22,669.41 196.11,669.41 197.01,669.41 197.90,669.41 198.79,669.41 199.69,669.40 200.58,669.40 201.48,669.40 202.37,669.40 203.27,669.40 204.16,669.39 205.05,669.39 205.95,669.39 206.84,669.39 207.74,669.38 208.63,669.38 209.53,669.38 210.42,669.38 211.31,669.37 212.21,669.37 213.10,669.37 214.00,669.36 214.89,669.36 215.79,669.36 216.68,669.35 217.57,669.35 218.47,669.34 219.36,669.34 220.26,669.34 221.15,669.33 222.05,669.33 222.94,669.32 223.83,669.32 224.73,669.31 225.62,669.30 226.52,669.30 227.41,669.29 228.30,669.29 229.20,669.28 230.09,669.27 230.99,669.26 231.88,669.26 232.78,669.25 233.67,669.24 234.56,669.23 235.46,669.22 236.35,669.21 237.25,669.21 238.14,669.20 239.04,669.18 239.93,669.17 240.82,669.16 241.72,669.15 242.61,669.14 243.51,669.13 244.40,669.11 245.30,669.10 246.19,669.09 247.08,669.07 247.98,669.05 248.87,669.04 249.77,669.02 250.66,669.00 251.55,668.99 252.45,668.97 253.34,668.95 254.24,668.93 255.13,668.91 256.03,668.88 256.92,668.86 257.81,668.84 258.71,668.81 259.60,668.79 260.50,668.76 261.39,668.73 262.29,668.70 263.18,668.67 264.07,668.64 264.97,668.61 265.86,668.57 266.76,668.54 267.65,668.50 268.55,668.46 269.44,668.42 270.33,668.38 271.23,668.34 272.12,668.29 273.02,668.25 273.91,668.20 274.81,668.15 275.70,668.10 276.59,668.04 277.49,667.99 278.38,667.93 279.28,667.86 280.17,667.80 281.06,667.73 281.96,667.67 282.85,667.59 283.75,667.52 284.64,667.44 285.54,667.36 286.43,667.28 287.32,667.19 288.22,667.10 289.11,667.01 290.01,666.91 290.90,666.81 291.80,666.70 292.69,666.59 293.58,666.48 294.48,666.36 295.37,666.24 296.27,666.11 297.16,665.98 298.06,665.84 298.95,665.70 299.84,665.55 300.74,665.40 301.63,665.24 302.53,665.07 303.42,664.90 304.31,664.72 305.21,664.53 306.10,664.34 307.00,664.14 307.89,663.93 308.79,663.72 309.68,663.50 310.57,663.26 311.47,663.03 312.36,662.78 313.26,662.52 314.15,662.25 315.05,661.98 315.94,661.69 316.83,661.39 317.73,661.09 318.62,660.77 319.52,660.44 320.41,660.10 321.31,659.74 322.20,659.38 323.09,659.00 323.99,658.61 324.88,658.21 325.78,657.79 326.67,657.36 327.56,656.91 328.46,656.46 329.35,655.98 330.25,655.49 331.14,654.98 332.04,654.46 332.93,653.92 333.82,653.37 334.72,652.80 335.61,652.21 336.51,651.60 337.40,650.98 338.30,650.34 339.19,649.68 340.08,649.00 340.98,648.30 341.87,647.58 342.77,646.84 343.66,646.09 344.56,645.31 345.45,644.52 346.34,643.70 347.24,642.87 348.13,642.01 349.03,641.13 349.92,640.24 350.82,639.32 351.71,638.39 352.60,637.43 353.50,636.46 354.39,635.46 355.29,634.45 356.18,633.42 357.07,632.37 357.97,631.30 358.86,630.21 359.76,629.11 360.65,627.98 361.55,626.85 362.44,625.69 363.33,624.52 364.23,623.34 365.12,622.14 366.02,620.93 366.91,619.71 367.81,618.47 368.70,617.22 369.59,615.97 370.49,614.70 371.38,613.43 372.28,612.15 373.17,610.86 374.07,609.57 374.96,608.27 375.85,606.97 376.75,605.67 377.64,604.37 378.54,603.06 379.43,601.76 380.32,600.46 381.22,599.16 382.11,597.87 383.01,596.58 383.90,595.30 384.80,594.02 385.69,592.76 386.58,591.50 387.48,590.25 388.37,589.01 389.27,587.78 390.16,586.57 391.06,585.36 391.95,584.18 392.84,583.00 393.74,581.84 394.63,580.70 395.53,579.57 396.42,578.46 397.32,577.37 398.21,576.30 399.10,575.24 400.00,574.20 400.89,573.18 401.79,572.18 402.68,571.20 403.57,570.24 404.47,569.30 405.36,568.38 406.26,567.48 407.15,566.60 408.05,565.73 408.94,564.89 409.83,564.07 410.73,563.27 411.62,562.49 412.52,561.73 413.41,560.98 414.31,560.26 415.20,559.56" fill="none" stroke="#33a86e" stroke-width="1.5"/><polyline points="58.40,670.12 59.29,670.12 60.19,670.12 61.08,670.12 61.98,670.12 62.87,670.12 63.77,670.12 64.66,670.12 65.55,670.12 66.45,670.12 67.34,670.12 68.24,670.12 69.13,670.12 70.03,670.12 70.92,670.12 71.81,670.12 72.71,670.12 73.60,670.12 74.50,670.12 75.39,670.12 76.28,670.12 77.18,670.12 78.07,670.12 78.97,670.12 79.86,670.12 80.76,670.12 81.65,670.12 82.54,670.12 83.44,670.12 84.33,670.12 85.23,670.12 86.12,670.12 87.02,670.12 87.91,670.12 88.80,670.12 89.70,670.12 90.59,670.12 91.49,670.12 92.38,670.12 93.28,670.12 94.17,670.12 95.06,670.12 95.96,670.12 96.85,670.12 97.75,670.12 98.64,670.12 99.53,670.12 100.43,670.12 101.32,670.12 102.22,670.12 103.11,670.12 104.01,670.12 104.90,670.12 105.79,670.12 106.69,670.12 107.58,670.12 108.48,670.12 109.37,670.12 110.27,670.12 111.16,670.12 112.05,670.12 112.95,670.12 113.84,670.12 114.74,670.12 115.63,670.12 116.53,670.12 117.42,670.12 118.31,670.12 119.21,670.12 120.10,670.12 121.00,670.12 121.89,670.12 122.78,670.12 123.68,670.12 124.57,670.12 125.47,670.12 126.36,670.12 127.26,670.12 128.15,670.12 129.04,670.12 129.94,670.12 130.83,670.12 131.73,670.12 132.62,670.12 133.52,670.12 134.41,670.12 135.30,670.12 136.20,670.12 137.09,670.12 137.99,670.12 138.88,670.12 139.78,670.12 140.67,670.12 141.56,670.12 142.46,670.12 143.35,670.12 144.25,670.12 145.14,670.12 146.04,670.12 146.93,670.12 147.82,670.12 148.72,670.12 149.61,670.12 150.51,670.12 151.40,670.12 152.29,670.12 153.19,670.12 154.08,670.12 154.98,670.12 155.87,670.12 156.77,670.12 157.66,670.12 158.55,670.12 159.45,670.12 160.34,670.12 161.24,670.12 162.13,670.12 163.03,670.12 163.92,670.12 164.81,670.12 165.71,670.12 166.60,670.12 167.50,670.12 168.39,670.12 169.29,670.12 170.18,670.12 171.07,670.12 171.97,670.12 172.86,670.12 173.76,670.12 174.65,670.12 175.54,670.12 176.44,670.12 177.33,670.12 178.23,670.12 179.12,670.12 180.02,670.12 180.91,670.12 181.80,670.12 182.70,670.12 183.59,670.12 184.49,670.12 185.38,670.12 186.28,670.12 187.17,670.12 188.06,670.12 188.96,670.12 189.85,670.12 190.75,670.12 191.64,670.12 192.54,670.12 193.43,670.12 194.32,670.12 195.22,670.12 196.11,670.12 197.01,670.12 197.90,670.12 198.79,670.12 199.69,670.12 200.58,670.12 201.48,670.12 202.37,670.12 203.27,670.12 204.16,670.12 205.05,670.12 205.95,670.12 206.84,670.12 207.74,670.12 208.63,670.12 209.53,670.12 210.42,670.12 211.31,670.12 212.21,670.12 213.10,670.12 214.00,670.12 214.89,670.12 215.79,670.12 216.68,670.12 217.57,670.12 218.47,670.12 219.36,670.12 220.26,670.12 221.15,670.12 222.05,670.12 222.94,670.12 223.83,670.12 224.73,670.12 225.62,670.12 226.52,670.12 227.41,670.12 228.30,670.12 229.20,670.12 230.09,670.12 230.99,670.12 231.88,670.12 232.78,670.12 233.67,670.12 234.56,670.12 235.46,670.12 236.35,670.12 237.25,670.12 238.14,670.12 239.04,670.12 239.93,670.12 240.82,670.12 241.72,670.12 242.61,670.12 243.51,670.12 244.40,670.12 245.30,670.12 246.19,670.12 247.08,670.12 247.98,670.12 248.87,670.12 249.77,670.12 250.66,670.12 251.55,670.12 252.45,670.12 253.34,670.12 254.24,670.12 255.13,670.12 256.03,670.12 256.92,670.12 257.81,670.12 258.71,670.12 259.60,670.12 260.50,670.12 261.39,670.12 262.29,670.12 263.18,670.12 264.07,670.12 264.97,670.12 265.86,670.12 266.76,670.12 267.65,670.12 268.55,670.12 269.44,670.12 270.33,670.12 271.23,670.12 272.12,670.12 273.02,670.12 273.91,670.12 274.81,670.12 275.70,670.12 276.59,670.12 277.49,670.12 278.38,670.12 279.28,670.12 280.17,670.12 281.06,670.12 281.96,670.12 282.85,670.12 283.75,670.12 284.64,670.12 285.54,670.12 286.43,670.12 287.32,670.12 288.22,670.12 289.11,670.12 290.01,670.12 290.90,670.12 291.80,670.12 292.69,670.12 293.58,670.12 294.48,670.12 295.37,670.12 296.27,670.12 297.16,670.12 298.06,670.12 298.95,670.12 299.84,670.12 300.74,670.12 301.63,670.12 302.53,670.12 303.42,670.12 304.31,670.12 305.21,670.12 306.10,670.12 307.00,670.12 307.89,670.12 308.79,670.12 309.68,670.12 310.57,670.12 311.47,670.12 312.36,670.12 313.26,670.12 314.15,670.12 315.05,670.12 315.94,670.12 316.83,670.12 317.73,670.12 318.62,670.12 319.52,670.12 320.41,670.12 321.31,670.12 322.20,670.12 323.09,670.12 323.99,670.12 324.88,670.12 325.78,670.12 326.67,670.12 327.56,670.12 328.46,670.12 329.35,670.12 330.25,670.12 331.14,670.12 332.04,670.12 332.93,670.12 333.82,670.12 334.72,670.12 335.61,670.12 336.51,670.12 337.40,670.12 338.30,670.12 339.19,670.12 340.08,670.12 340.98,670.12 341.87,670.12 342.77,670.12 343.66,670.12 344.56,670.12 345.45,670.12 346.34,670.12 347.24,670.12 348.13,670.12 349.03,670.12 349.92,670.12 350.82,670.12 351.71,670.12 352.60,670.12 353.50,670.12 354.39,670.12 355.29,670.12 356.18,670.12 357.07,670.12 357.97,670.12 358.86,670.12 359.76,670.12 360.65,670.12 361.55,670.12 362.44,670.12 363.33,670.12 364.23,670.12 365.12,670.12 366.02,670.12 366.91,670.12 367.81,670.12 368.70,670.12 369.59,670.12 370.49,670.12 371.38,670.12 372.28,670.12 373.17,670.12 374.07,670.12 374.96,670.12 375.85,670.12 376.75,670.12 377.64,670.12 378.54,670.12 379.43,670.12 380.32,670.12 381.22,670.12 382.11,670.12 383.01,670.12 383.90,670.12 384.80,670.12 385.69,670.12 386.58,670.12 387.48,670.12 388.37,670.12 389.27,670.12 390.16,670.12 391.06,670.12 391.95,670.12 392.84,670.12 393.74,670.12 394.63,670.12 395.53,670.12 396.42,670.12 397.32,670.12 398.21,670.12 399.10,670.12 400.00,670.12 400.89,670.12 401.79,670.12 402.68,670.12 403.57,670.12 404.47,670.12 405.36,670.12 406.26,670.12 407.15,670.12 408.05,670.12 408.94,670.12 409.83,670.12 410.73,670.12 411.62,670.12 412.52,670.12 413.41,670.12 414.31,670.12 415.20,670.12" fill="none" stroke="#b47af0" stroke-width="1.5"/><polyline points="58.40,669.45 59.29,669.45 60.19,669.45 61.08,669.45 61.98,669.45 62.87,669.45 63.77,669.45 64.66,669.45 65.55,669.45 66.45,669.45 67.34,669.45 68.24,669.45 69.13,669.45 70.03,669.45 70.92,669.45 71.81,669.45 72.71,669.45 73.60,669.45 74.50,669.45 75.39,669.45 76.28,669.45 77.18,669.45 78.07,669.45 78.97,669.45 79.86,669.45 80.76,669.45 81.65,669.45 82.54,669.45 83.44,669.45 84.33,669.45 85.23,669.45 86.12,669.45 87.02,669.45 87.91,669.45 88.80,669.45 89.70,669.45 90.59,669.45 91.49,669.45 92.38,669.45 93.28,669.45 94.17,669.45 95.06,669.45 95.96,669.45 96.85,669.45 97.75,669.45 98.64,669.45 99.53,669.45 100.43,669.45 101.32,669.45 102.22,669.45 103.11,669.45 104.01,669.45 104.90,669.45 105.79,669.45 106.69,669.45 107.58,669.45 108.48,669.45 109.37,669.45 110.27,669.45 111.16,669.45 112.05,669.45 112.95,669.45 113.84,669.45 114.74,669.45 115.63,669.45 116.53,669.45 117.42,669.45 118.31,669.45 119.21,669.45 120.10,669.45 121.00,669.45 121.89,669.45 122.78,669.45 123.68,669.45 124.57,669.45 125.47,669.45 126.36,669.45 127.26,669.45 128.15,669.45 129.04,669.45 129.94,669.45 130.83,669.45 131.73,669.45 132.62,669.45 133.52,669.45 134.41,669.45 135.30,669.45 136.20,669.45 137.09,669.45 137.99,669.45 138.88,669.45 139.78,669.45 140.67,669.45 141.56,669.45 142.46,669.45 143.35,669.45 144.25,669.45 145.14,669.45 146.04,669.45 146.93,669.45 147.82,669.45 148.72,669.45 149.61,669.45 150.51,669.45 151.40,669.45 152.29,669.45 153.19,669.45 154.08,669.45 154.98,669.45 155.87,669.45 156.77,669.45 157.66,669.45 158.55,669.45 159.45,669.45 160.34,669.45 161.24,669.45 162.13,669.45 163.03,669.45 163.92,669.45 164.81,669.45 165.71,669.45 166.60,669.45 167.50,669.45 168.39,669.45 169.29,669.45 170.18,669.45 171.07,669.45 171.97,669.45 172.86,669.45 173.76,669.45 174.65,669.45 175.54,669.45 176.44,669.45 177.33,669.45 178.23,669.45 179.12,669.45 180.02,669.45 180.91,669.45 181.80,669.45 182.70,669.45 183.59,669.45 184.49,669.45 185.38,669.45 186.28,669.45 187.17,669.45 188.06,669.45 188.96,669.45 189.85,669.45 190.75,669.45 191.64,669.45 192.54,669.45 193.43,669.45 194.32,669.45 195.22,669.45 196.11,669.45 197.01,669.45 197.90,669.45 198.79,669.45 199.69,669.45 200.58,669.45 201.48,669.45 202.37,669.45 203.27,669.45 204.16,669.45 205.05,669.45 205.95,669.45 206.84,669.45 207.74,669.45 208.63,669.45 209.53,669.45 210.42,669.45 211.31,669.45 212.21,669.45 213.10,669.45 214.00,669.45 214.89,669.45 215.79,669.45 216.68,669.45 217.57,669.45 218.47,669.45 219.36,669.45 220.26,669.45 221.15,669.45 222.05,669.45 222.94,669.45 223.83,669.45 224.73,669.45 225.62,669.45 226.52,669.45 227.41,669.45 228.30,669.45 229.20,669.45 230.09,669.45 230.99,669.45 231.88,669.45 232.78,669.45 233.67,669.45 234.56,669.45 235.46,669.45 236.35,669.45 237.25,669.45 238.14,669.45 239.04,669.45 239.93,669.45 240.82,669.45 241.72,669.45 242.61,669.45 243.51,669.45 244.40,669.45 245.30,669.45 246.19,669.45 247.08,669.45 247.98,669.45 248.87,669.45 249.77,669.45 250.66,669.45 251.55,669.45 252.45,669.45 253.34,669.45 254.24,669.45 255.13,669.45 256.03,669.45 256.92,669.45 257.81,669.45 258.71,669.45 259.60,669.45 260.50,669.45 261.39,669.45 262.29,669.45 263.18,669.45 264.07,669.45 264.97,669.45 265.86,669.45 266.76,669.45 267.65,669.45 268.55,669.45 269.44,669.45 270.33,669.45 271.23,669.45 272.12,669.45 273.02,669.45 273.91,669.45 274.81,669.45 275.70,669.45 276.59,669.45 277.49,669.45 278.38,669.45 279.28,669.45 280.17,669.45 281.06,669.45 281.96,669.45 282.85,669.45 283.75,669.45 284.64,669.45 285.54,669.45 286.43,669.45 287.32,669.45 288.22,669.45 289.11,669.45 290.01,669.45 290.90,669.45 291.80,669.45 292.69,669.45 293.58,669.45 294.48,669.45 295.37,669.45 296.27,669.45 297.16,669.45 298.06,669.45 298.95,669.45 299.84,669.45 300.74,669.45 301.63,669.45 302.53,669.45 303.42,669.45 304.31,669.45 305.21,669.45 306.10,669.45 307.00,669.45 307.89,669.45 308.79,669.45 309.68,669.45 310.57,669.45 311.47,669.45 312.36,669.45 313.26,669.45 314.15,669.45 315.05,669.45 315.94,669.45 316.83,669.45 317.73,669.45 318.62,669.45 319.52,669.45 320.41,669.45 321.31,669.45 322.20,669.45 323.09,669.45 323.99,669.45 324.88,669.45 325.78,669.45 326.67,669.45 327.56,669.44 328.46,669.44 329.35,669.44 330.25,669.44 331.14,669.44 332.04,669.44 332.93,669.44 333.82,669.44 334.72,669.44 335.61,669.44 336.51,669.43 337.40,669.43 338.30,669.43 339.19,669.43 340.08,669.43 340.98,669.42 341.87,669.42 342.77,669.42 343.66,669.41 344.56,669.41 345.45,669.41 346.34,669.40 347.24,669.39 348.13,669.39 349.03,669.38 349.92,669.37 350.82,669.37 351.71,669.36 352.60,669.35 353.50,669.34 354.39,669.32 355.29,669.31 356.18,669.29 357.07,669.28 357.97,669.26 358.86,669.24 359.76,669.21 360.65,669.19 361.55,669.16 362.44,669.13 363.33,669.10 364.23,669.06 365.12,669.02 366.02,668.98 366.91,668.93 367.81,668.87 368.70,668.82 369.59,668.75 370.49,668.68 371.38,668.61 372.28,668.53 373.17,668.44 374.07,668.35 374.96,668.25 375.85,668.14 376.75,668.03 377.64,667.91 378.54,667.78 379.43,667.65 380.32,667.51 381.22,667.36 382.11,667.21 383.01,667.05 383.90,666.88 384.80,666.72 385.69,666.55 386.58,666.38 387.48,666.20 388.37,666.03 389.27,665.86 390.16,665.69 391.06,665.52 391.95,665.35 392.84,665.19 393.74,665.04 394.63,664.89 395.53,664.74 396.42,664.61 397.32,664.48 398.21,664.35 399.10,664.23 400.00,664.12 400.89,664.02 401.79,663.92 402.68,663.84 403.57,663.75 404.47,663.67 405.36,663.60 406.26,663.54 407.15,663.48 408.05,663.42 408.94,663.37 409.83,663.33 410.73,663.28 411.62,663.24 412.52,663.21 413.41,663.18 414.31,663.15 415.20,663.12" fill="none" stroke="#d2a00e" stroke-width="1.5"/><polyline points="58.40,669.45 59.29,669.45 60.19,669.45 61.08,669.45 61.98,669.45 62.87,669.45 63.77,669.45 64.66,669.45 65.55,669.45 66.45,669.45 67.34,669.45 68.24,669.45 69.13,669.45 70.03,669.45 70.92,669.45 71.81,669.45 72.71,669.45 73.60,669.45 74.50,669.45 75.39,669.45 76.28,669.45 77.18,669.45 78.07,669.45 78.97,669.45 79.86,669.45 80.76,669.45 81.65,669.45 82.54,669.45 83.44,669.45 84.33,669.45 85.23,669.45 86.12,669.45 87.02,669.45 87.91,669.45 88.80,669.45 89.70,669.45 90.59,669.45 91.49,669.45 92.38,669.45 93.28,669.45 94.17,669.45 95.06,669.45 95.96,669.45 96.85,669.45 97.75,669.45 98.64,669.45 99.53,669.45 100.43,669.45 101.32,669.45 102.22,669.45 103.11,669.45 104.01,669.45 104.90,669.45 105.79,669.45 106.69,669.45 107.58,669.45 108.48,669.45 109.37,669.45 110.27,669.45 111.16,669.45 112.05,669.45 112.95,669.45 113.84,669.45 114.74,669.45 115.63,669.45 116.53,669.45 117.42,669.45 118.31,669.45 119.21,669.45 120.10,669.45 121.00,669.45 121.89,669.45 122.78,669.45 123.68,669.45 124.57,669.45 125.47,669.45 126.36,669.45 127.26,669.45 128.15,669.45 129.04,669.45 129.94,669.45 130.83,669.45 131.73,669.45 132.62,669.45 133.52,669.45 134.41,669.45 135.30,669.45 136.20,669.45 137.09,669.45 137.99,669.45 138.88,669.45 139.78,669.45 140.67,669.45 141.56,669.45 142.46,669.45 143.35,669.45 144.25,669.45 145.14,669.45 146.04,669.45 146.93,669.45 147.82,669.45 148.72,669.45 149.61,669.45 150.51,669.45 151.40,669.45 152.29,669.45 153.19,669.45 154.08,669.45 154.98,669.45 155.87,669.45 156.77,669.45 157.66,669.45 158.55,669.45 159.45,669.45 160.34,669.45 161.24,669.45 162.13,669.45 163.03,669.45 163.92,669.45 164.81,669.45 165.71,669.45 166.60,669.45 167.50,669.45 168.39,669.45 169.29,669.45 170.18,669.45 171.07,669.45 171.97,669.45 172.86,669.45 173.76,669.45 174.65,669.45 175.54,669.45 176.44,669.45 177.33,669.45 178.23,669.45 179.12,669.45 180.02,669.45 180.91,669.45 181.80,669.45 182.70,669.45 183.59,669.45 184.49,669.45 185.38,669.45 186.28,669.45 187.17,669.45 188.06,669.45 188.96,669.45 189.85,669.45 190.75,669.45 191.64,669.45 192.54,669.45 193.43,669.45 194.32,669.45 195.22,669.45 196.11,669.45 197.01,669.45 197.90,669.45 198.79,669.45 199.69,669.45 200.58,669.45 201.48,669.45 202.37,669.45 203.27,669.45 204.16,669.45 205.05,669.45 205.95,669.45 206.84,669.45 207.74,669.45 208.63,669.45 209.53,669.45 210.42,669.45 211.31,669.45 212.21,669.45 213.10,669.45 214.00,669.45 214.89,669.45 215.79,669.45 216.68,669.45 217.57,669.45 218.47,669.45 219.36,669.45 220.26,669.45 221.15,669.45 222.05,669.45 222.94,669.45 223.83,669.45 224.73,669.45 225.62,669.44 226.52,669.44 227.41,669.44 228.30,669.44 229.20,669.44 230.09,669.44 230.99,669.44 231.88,669.44 232.78,669.44 233.67,669.44 234.56,669.44 235.46,669.44 236.35,669.44 237.25,669.44 238.14,669.44 239.04,669.44 239.93,669.44 240.82,669.44 241.72,669.44 242.61,669.43 243.51,669.43 244.40,669.43 245.30,669.43 246.19,669.43 247.08,669.43 247.98,669.43 248.87,669.43 249.77,669.43 250.66,669.42 251.55,669.42 252.45,669.42 253.34,669.42 254.24,669.42 255.13,669.42 256.03,669.41 256.92,669.41 257.81,669.41 258.71,669.41 259.60,669.41 260.50,669.40 261.39,669.40 262.29,669.40 263.18,669.39 264.07,669.39 264.97,669.39 265.86,669.38 266.76,669.38 267.65,669.38 268.55,669.37 269.44,669.37 270.33,669.36 271.23,669.36 272.12,669.35 273.02,669.35 273.91,669.34 274.81,669.33 275.70,669.33 276.59,669.32 277.49,669.31 278.38,669.31 279.28,669.30 280.17,669.29 281.06,669.28 281.96,669.27 282.85,669.26 283.75,669.25 284.64,669.24 285.54,669.22 286.43,669.21 287.32,669.20 288.22,669.18 289.11,669.17 290.01,669.15 290.90,669.14 291.80,669.12 292.69,669.10 293.58,669.08 294.48,669.06 295.37,669.04 296.27,669.01 297.16,668.99 298.06,668.96 298.95,668.93 299.84,668.90 300.74,668.87 301.63,668.84 302.53,668.80 303.42,668.77 304.31,668.73 305.21,668.69 306.10,668.64 307.00,668.60 307.89,668.55 308.79,668.50 309.68,668.44 310.57,668.39 311.47,668.33 312.36,668.26 313.26,668.20 314.15,668.13 315.05,668.05 315.94,667.97 316.83,667.89 317.73,667.80 318.62,667.71 319.52,667.61 320.41,667.51 321.31,667.40 322.20,667.28 323.09,667.16 323.99,667.04 324.88,666.90 325.78,666.76 326.67,666.61 327.56,666.45 328.46,666.28 329.35,666.11 330.25,665.92 331.14,665.73 332.04,665.53 332.93,665.31 333.82,665.08 334.72,664.85 335.61,664.59 336.51,664.33 337.40,664.05 338.30,663.76 339.19,663.46 340.08,663.13 340.98,662.80 341.87,662.44 342.77,662.07 343.66,661.68 344.56,661.27 345.45,660.85 346.34,660.40 347.24,659.93 348.13,659.44 349.03,658.92 349.92,658.39 350.82,657.83 351.71,657.25 352.60,656.64 353.50,656.00 354.39,655.34 355.29,654.65 356.18,653.93 357.07,653.19 357.97,652.42 358.86,651.62 359.76,650.79 360.65,649.93 361.55,649.04 362.44,648.12 363.33,647.17 364.23,646.19 365.12,645.18 366.02,644.14 366.91,643.07 367.81,641.98 368.70,640.85 369.59,639.70 370.49,638.52 371.38,637.32 372.28,636.10 373.17,634.85 374.07,633.57 374.96,632.28 375.85,630.97 376.75,629.64 377.64,628.30 378.54,626.95 379.43,625.58 380.32,624.20 381.22,622.82 382.11,621.43 383.01,620.03 383.90,618.64 384.80,617.25 385.69,615.86 386.58,614.47 387.48,613.10 388.37,611.73 389.27,610.37 390.16,609.03 391.06,607.70 391.95,606.39 392.84,605.10 393.74,603.83 394.63,602.58 395.53,601.36 396.42,600.15 397.32,598.98 398.21,597.83 399.10,596.70 400.00,595.61 400.89,594.54 401.79,593.51 402.68,592.50 403.57,591.52 404.47,590.57 405.36,589.65 406.26,588.76 407.15,587.90 408.05,587.07 408.94,586.27 409.83,585.50 410.73,584.76 411.62,584.04 412.52,583.36 413.41,582.69 414.31,582.06 415.20,581.45" fill="none" stroke="#1ac8d2" stroke-width="1.5"/><polyline points="58.40,669.45 59.29,669.45 60.19,669.45 61.08,669.45 61.98,669.45 62.87,669.45 63.77,669.45 64.66,669.45 65.55,669.45 66.45,669.45 67.34,669.45 68.24,669.45 69.13,669.45 70.03,669.45 70.92,669.45 71.81,669.45 72.71,669.45 73.60,669.45 74.50,669.45 75.39,669.45 76.28,669.45 77.18,669.45 78.07,669.45 78.97,669.45 79.86,669.45 80.76,669.45 81.65,669.45 82.54,669.45 83.44,669.45 84.33,669.45 85.23,669.45 86.12,669.45 87.02,669.45 87.91,669.45 88.80,669.45 89.70,669.45 90.59,669.45 91.49,669.45 92.38,669.45 93.28,669.45 94.17,669.45 95.06,669.45 95.96,669.45 96.85,669.45 97.75,669.45 98.64,669.45 99.53,669.45 100.43,669.45 101.32,669.45 102.22,669.45 103.11,669.45 104.01,669.45 104.90,669.45 105.79,669.45 106.69,669.45 107.58,669.45 108.48,669.45 109.37,669.45 110.27,669.45 111.16,669.45 112.05,669.45 112.95,669.45 113.84,669.45 114.74,669.45 115.63,669.45 116.53,669.45 117.42,669.45 118.31,669.45 119.21,669.45 120.10,669.45 121.00,669.45 121.89,669.45 122.78,669.45 123.68,669.45 124.57,669.45 125.47,669.45 126.36,669.45 127.26,669.45 128.15,669.45 129.04,669.45 129.94,669.45 130.83,669.45 131.73,669.45 132.62,669.45 133.52,669.45 134.41,669.45 135.30,669.45 136.20,669.45 137.09,669.45 137.99,669.45 138.88,669.45 139.78,669.45 140.67,669.45 141.56,669.45 142.46,669.45 143.35,669.45 144.25,669.45 145.14,669.45 146.04,669.45 146.93,669.45 147.82,669.45 148.72,669.45 149.61,669.45 150.51,669.45 151.40,669.45 152.29,669.45 153.19,669.45 154.08,669.45 154.98,669.45 155.87,669.45 156.77,669.45 157.66,669.45 158.55,669.45 159.45,669.45 160.34,669.45 161.24,669.45 162.13,669.45 163.03,669.45 163.92,669.45 164.81,669.45 165.71,669.45 166.60,669.45 167.50,669.45 168.39,669.45 169.29,669.45 170.18,669.45 171.07,669.45 171.97,669.45 172.86,669.45 173.76,669.45 174.65,669.45 175.54,669.45 176.44,669.45 177.33,669.45 178.23,669.45 179.12,669.45 180.02,669.45 180.91,669.45 181.80,669.45 182.70,669.45 183.59,669.45 184.49,669.45 185.38,669.45 186.28,669.45 187.17,669.45 188.06,669.45 188.96,669.45 189.85,669.45 190.75,669.45 191.64,669.45 192.54,669.45 193.43,669.45 194.32,669.45 195.22,669.45 196.11,669.45 197.01,669.45 197.90,669.45 198.79,669.45 199.69,669.45 200.58,669.45 201.48,669.45 202.37,669.45 203.27,669.45 204.16,669.45 205.05,669.45 205.95,669.45 206.84,669.45 207.74,669.45 208.63,669.45 209.53,669.45 210.42,669.45 211.31,669.45 212.21,669.44 213.10,669.44 214.00,669.44 214.89,669.44 215.79,669.44 216.68,669.44 217.57,669.44 218.47,669.44 219.36,669.44 220.26,669.44 221.15,669.44 222.05,669.44 222.94,669.44 223.83,669.44 224.73,669.44 225.62,669.44 226.52,669.44 227.41,669.44 228.30,669.44 229.20,669.44 230.09,669.43 230.99,669.43 231.88,669.43 232.78,669.43 233.67,669.43 234.56,669.43 235.46,669.43 236.35,669.43 237.25,669.43 238.14,669.42 239.04,669.42 239.93,669.42 240.82,669.42 241.72,669.42 242.61,669.42 243.51,669.41 244.40,669.41 245.30,669.41 246.19,669.41 247.08,669.41 247.98,669.40 248.87,669.40 249.77,669.40 250.66,669.40 251.55,669.39 252.45,669.39 253.34,669.39 254.24,669.38 255.13,669.38 256.03,669.37 256.92,669.37 257.81,669.37 258.71,669.36 259.60,669.36 260.50,669.35 261.39,669.34 262.29,669.34 263.18,669.33 264.07,669.33 264.97,669.32 265.86,669.31 266.76,669.30 267.65,669.30 268.55,669.29 269.44,669.28 270.33,669.27 271.23,669.26 272.12,669.25 273.02,669.24 273.91,669.22 274.81,669.21 275.70,669.20 276.59,669.18 277.49,669.17 278.38,669.15 279.28,669.14 280.17,669.12 281.06,669.10 281.96,669.08 282.85,669.06 283.75,669.04 284.64,669.02 285.54,668.99 286.43,668.97 287.32,668.94 288.22,668.91 289.11,668.88 290.01,668.85 290.90,668.81 291.80,668.78 292.69,668.74 293.58,668.70 294.48,668.66 295.37,668.62 296.27,668.57 297.16,668.52 298.06,668.47 298.95,668.41 299.84,668.36 300.74,668.30 301.63,668.23 302.53,668.16 303.42,668.09 304.31,668.02 305.21,667.94 306.10,667.85 307.00,667.76 307.89,667.67 308.79,667.57 309.68,667.47 310.57,667.36 311.47,667.24 312.36,667.12 313.26,666.99 314.15,666.86 315.05,666.71 315.94,666.56 316.83,666.41 317.73,666.24 318.62,666.06 319.52,665.88 320.41,665.68 321.31,665.48 322.20,665.26 323.09,665.03 323.99,664.79 324.88,664.54 325.78,664.27 326.67,664.00 327.56,663.70 328.46,663.39 329.35,663.07 330.25,662.73 331.14,662.37 332.04,661.99 332.93,661.60 333.82,661.18 334.72,660.74 335.61,660.29 336.51,659.81 337.40,659.30 338.30,658.78 339.19,658.23 340.08,657.65 340.98,657.04 341.87,656.41 342.77,655.75 343.66,655.06 344.56,654.33 345.45,653.58 346.34,652.79 347.24,651.97 348.13,651.12 349.03,650.23 349.92,649.30 350.82,648.33 351.71,647.33 352.60,646.29 353.50,645.21 354.39,644.09 355.29,642.94 356.18,641.74 357.07,640.50 357.97,639.21 358.86,637.89 359.76,636.53 360.65,635.12 361.55,633.68 362.44,632.20 363.33,630.67 364.23,629.11 365.12,627.51 366.02,625.87 366.91,624.20 367.81,622.50 368.70,620.76 369.59,618.99 370.49,617.19 371.38,615.37 372.28,613.52 373.17,611.65 374.07,609.76 374.96,607.86 375.85,605.93 376.75,604.00 377.64,602.06 378.54,600.11 379.43,598.16 380.32,596.21 381.22,594.26 382.11,592.32 383.01,590.38 383.90,588.46 384.80,586.55 385.69,584.66 386.58,582.78 387.48,580.93 388.37,579.10 389.27,577.30 390.16,575.53 391.06,573.78 391.95,572.07 392.84,570.39 393.74,568.75 394.63,567.14 395.53,565.57 396.42,564.04 397.32,562.55 398.21,561.10 399.10,559.68 400.00,558.31 400.89,556.98 401.79,555.69 402.68,554.44 403.57,553.24 404.47,552.07 405.36,550.94 406.26,549.86 407.15,548.81 408.05,547.80 408.94,546.83 409.83,545.89 410.73,545.00 411.62,544.13 412.52,543.31 413.41,542.51 414.31,541.75 415.20,541.02" fill="none" stroke="#7b4c48" stroke-width="1.5"/><rect x="74.50" y="412.90" width="6.60" height="6.60" fill="#4b4b4b"/><circle cx="77.80" cy="433.05" r="3.63" fill="#f04a4a"/><polygon points="77.80,445.61 81.88,452.47 73.72,452.47" fill="#2468e6"/><polygon points="77.80,471.04 81.88,464.18 73.72,464.18" fill="#33a86e"/><polygon points="77.80,479.31 82.09,483.60 77.80,487.89 73.51,483.60" fill="#b47af0"/><polygon points="73.51,500.45 80.37,496.37 80.37,504.53" fill="#d2a00e"/><polygon points="82.09,517.30 75.23,513.22 75.23,521.38" fill="#1ac8d2"/><polygon points="77.80,537.78 74.66,535.97 74.66,532.34 77.80,530.52 80.94,532.34 80.94,535.97" fill="#7b4c48"/><text x="97.7" y="420.6" font-size="13.0" fill="#1a1a1a" text-anchor="start" textLength="161.0" lengthAdjust="spacingAndGlyphs">Fab3-BiLockCatcher-FabG</text><text x="97.7" y="437.5" font-size="13.0" fill="#1a1a1a" text-anchor="start" textLength="161.0" lengthAdjust="spacingAndGlyphs">FabG-BiLockCatcher-Fab3</text><text x="97.7" y="454.3" font-size="13.0" fill="#1a1a1a" text-anchor="start" textLength="162.7" lengthAdjust="spacingAndGlyphs">Fab3-BiLockCatcher-aGFP</text><text x="97.7" y="471.2" font-size="13.0" fill="#1a1a1a" text-anchor="start" textLength="165.3" lengthAdjust="spacingAndGlyphs">FabG-BiLockCatcher-aGFP</text><text x="97.7" y="488.0" font-size="13.0" fill="#1a1a1a" text-anchor="start" textLength="166.7" lengthAdjust="spacingAndGlyphs">aGFP-BiLockCatcher-aGFP</text><text x="97.7" y="504.9" font-size="13.0" fill="#1a1a1a" text-anchor="start" textLength="32.5" lengthAdjust="spacingAndGlyphs">Fab3</text><text x="97.7" y="521.7" font-size="13.0" fill="#1a1a1a" text-anchor="start">FabG</text><text x="97.7" y="538.6" font-size="13.0" fill="#1a1a1a" text-anchor="start" textLength="78.6" lengthAdjust="spacingAndGlyphs">Fab3 + FabG</text>
</svg></body></html>
